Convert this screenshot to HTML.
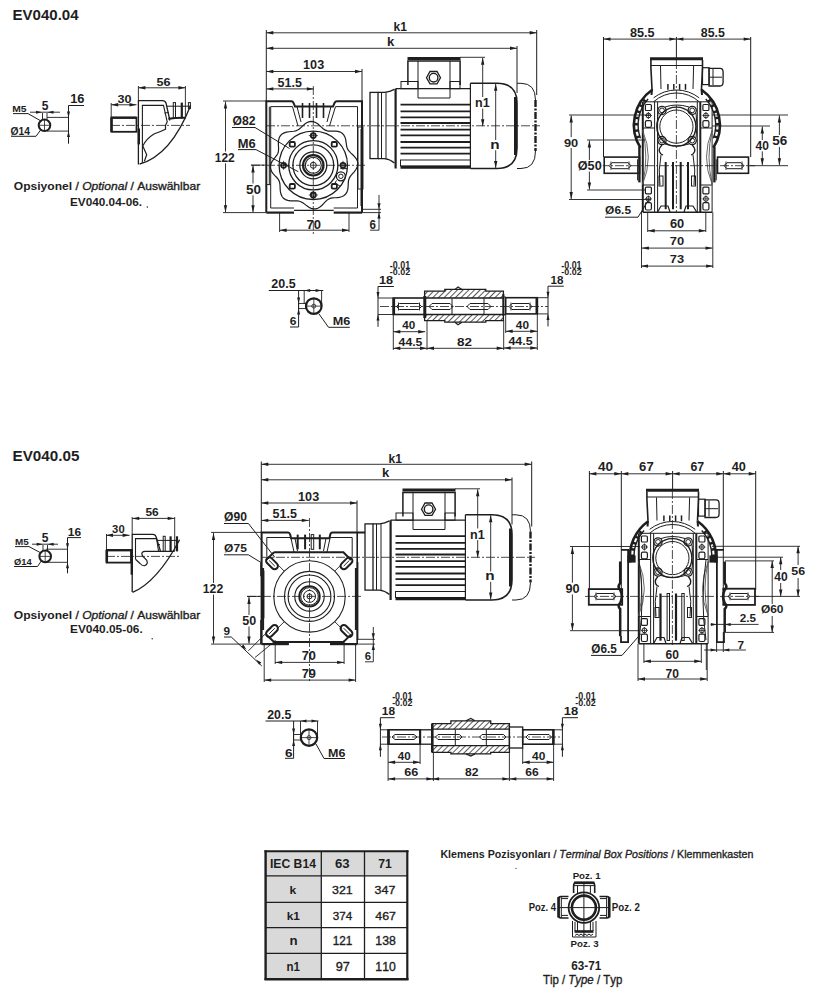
<!DOCTYPE html>
<html><head><meta charset="utf-8"><style>
html,body{margin:0;padding:0;background:#fff;}
svg{display:block;font-family:"Liberation Sans",sans-serif;font-kerning:none;}
</style></head><body>
<svg width="815" height="996" viewBox="0 0 815 996" stroke-linecap="butt">
<rect width="815" height="996" fill="#fff"/>
<text x="12.49" y="19.50" font-size="14.53" textLength="66.09" lengthAdjust="spacingAndGlyphs" style="font-weight:bold;" fill="#1e1e1e">EV040.04</text>
<text x="12.31" y="112.00" font-size="9.88" textLength="14.27" lengthAdjust="spacingAndGlyphs" style="font-weight:bold;" fill="#1e1e1e">M5</text>
<line x1="13.00" y1="113.60" x2="28.00" y2="113.60" stroke="#1e1e1e" stroke-width="1.0"/>
<line x1="28.00" y1="113.60" x2="41.00" y2="121.00" stroke="#1e1e1e" stroke-width="1.0"/>
<text x="41.63" y="110.00" font-size="13.08" textLength="6.71" lengthAdjust="spacingAndGlyphs" style="font-weight:bold;" fill="#1e1e1e">5</text>
<line x1="30.00" y1="112.20" x2="60.00" y2="112.20" stroke="#1e1e1e" stroke-width="0.9"/>
<path d="M42.00,112.20 L36.00,113.70 L36.00,110.70 Z" fill="#1e1e1e" stroke="none"/>
<path d="M47.50,112.20 L53.50,110.70 L53.50,113.70 Z" fill="#1e1e1e" stroke="none"/>
<line x1="42.50" y1="113.00" x2="42.50" y2="119.00" stroke="#1e1e1e" stroke-width="0.9"/>
<line x1="47.00" y1="113.00" x2="47.00" y2="119.00" stroke="#1e1e1e" stroke-width="0.9"/>
<circle cx="44.50" cy="125.30" r="5.80" stroke="#1e1e1e" stroke-width="2.0" fill="none"/>
<line x1="44.50" y1="120.00" x2="44.50" y2="130.50" stroke="#1e1e1e" stroke-width="0.8"/>
<line x1="39.50" y1="125.30" x2="49.50" y2="125.30" stroke="#1e1e1e" stroke-width="0.8"/>
<text x="10.58" y="135.00" font-size="10.17" textLength="19.48" lengthAdjust="spacingAndGlyphs" style="font-weight:bold;" fill="#1e1e1e">Ø14</text>
<line x1="11.00" y1="136.30" x2="36.00" y2="136.30" stroke="#1e1e1e" stroke-width="1.0"/>
<line x1="36.00" y1="136.30" x2="41.00" y2="129.50" stroke="#1e1e1e" stroke-width="1.0"/>
<text x="70.19" y="103.00" font-size="12.50" textLength="14.27" lengthAdjust="spacingAndGlyphs" style="font-weight:bold;" fill="#1e1e1e">16</text>
<line x1="68.50" y1="105.50" x2="84.00" y2="105.50" stroke="#1e1e1e" stroke-width="1.0"/>
<line x1="68.50" y1="105.50" x2="68.50" y2="143.70" stroke="#1e1e1e" stroke-width="1.0"/>
<line x1="47.00" y1="117.40" x2="69.00" y2="117.40" stroke="#1e1e1e" stroke-width="0.9"/>
<line x1="47.00" y1="131.10" x2="69.00" y2="131.10" stroke="#1e1e1e" stroke-width="0.9"/>
<path d="M68.50,117.40 L67.00,111.40 L70.00,111.40 Z" fill="#1e1e1e" stroke="none"/>
<path d="M68.50,131.10 L70.00,137.10 L67.00,137.10 Z" fill="#1e1e1e" stroke="none"/>
<text x="156.51" y="85.60" font-size="11.77" textLength="14.04" lengthAdjust="spacingAndGlyphs" style="font-weight:bold;" fill="#1e1e1e">56</text>
<line x1="138.40" y1="87.80" x2="185.40" y2="87.80" stroke="#1e1e1e" stroke-width="0.9"/>
<path d="M138.40,87.80 L145.40,86.10 L145.40,89.50 Z" fill="#1e1e1e" stroke="none"/>
<path d="M185.40,87.80 L178.40,89.50 L178.40,86.10 Z" fill="#1e1e1e" stroke="none"/>
<line x1="138.40" y1="86.00" x2="138.40" y2="100.00" stroke="#1e1e1e" stroke-width="0.9"/>
<line x1="185.40" y1="86.00" x2="185.40" y2="118.00" stroke="#1e1e1e" stroke-width="0.9"/>
<text x="117.51" y="102.50" font-size="11.63" textLength="14.01" lengthAdjust="spacingAndGlyphs" style="font-weight:bold;" fill="#1e1e1e">30</text>
<line x1="111.20" y1="104.80" x2="136.50" y2="104.80" stroke="#1e1e1e" stroke-width="0.9"/>
<path d="M111.20,104.80 L118.20,103.10 L118.20,106.50 Z" fill="#1e1e1e" stroke="none"/>
<path d="M136.50,104.80 L129.50,106.50 L129.50,103.10 Z" fill="#1e1e1e" stroke="none"/>
<line x1="111.20" y1="103.00" x2="111.20" y2="118.00" stroke="#1e1e1e" stroke-width="0.9"/>
<rect x="111.50" y="117.50" width="25.00" height="14.30" rx="0" stroke="#1e1e1e" stroke-width="1.8" fill="none"/>
<line x1="111.50" y1="117.50" x2="111.50" y2="131.80" stroke="#1e1e1e" stroke-width="2.5"/>
<line x1="111.50" y1="117.80" x2="136.00" y2="117.80" stroke="#1e1e1e" stroke-width="2.2"/>
<line x1="111.00" y1="125.40" x2="190.00" y2="125.40" stroke="#1e1e1e" stroke-width="0.8" stroke-dasharray="9 2 2 2"/>
<path d="M138.4,164.4 L138.4,100.6 L162.5,100.6 Q165.1,100.6 166,103 L169.9,120.5" stroke="#1e1e1e" stroke-width="1.3" fill="none" />
<path d="M142.4,162.8 L142.4,105.4 L163.5,105.4 L167.1,121.3" stroke="#1e1e1e" stroke-width="1.1" fill="none" />
<line x1="164.50" y1="113.00" x2="168.50" y2="112.50" stroke="#1e1e1e" stroke-width="1.0"/>
<line x1="138.80" y1="128.50" x2="138.80" y2="144.40" stroke="#1e1e1e" stroke-width="2.4"/>
<path d="M139.6,164 Q170.9,155.3 190.6,105.4" stroke="#1e1e1e" stroke-width="1.3" fill="none" />
<path d="M167.5,121.3 L165.5,125.3 L165.5,129.3 Q160,132 153.9,134 Q146,139 142.8,146 L146.7,154.8 L144.4,161.2" stroke="#1e1e1e" stroke-width="1.2" fill="none" />
<line x1="167.00" y1="106.20" x2="190.00" y2="106.20" stroke="#1e1e1e" stroke-width="1.0"/>
<path d="M168.3,118.8 Q177,117.5 185.8,117.8" stroke="#1e1e1e" stroke-width="2.0" fill="none" />
<rect x="173.30" y="102.60" width="2.20" height="15.90" rx="0" stroke="#1e1e1e" stroke-width="1.0" fill="none"/>
<line x1="181.80" y1="102.60" x2="181.80" y2="118.50" stroke="#1e1e1e" stroke-width="2.2"/>
<rect x="188.40" y="102.60" width="2.00" height="6.00" rx="0" stroke="#1e1e1e" stroke-width="1.0" fill="none"/>
<text x="13.81" y="190.40" font-size="11.77" textLength="61.67" lengthAdjust="spacingAndGlyphs" style="font-weight:bold;" fill="#1e1e1e" xml:space="preserve">Opsiyonel </text>
<text x="75.48" y="190.40" font-size="11.77" textLength="6.70" lengthAdjust="spacingAndGlyphs" style="stroke:#1e1e1e;stroke-width:0.35px;" fill="#1e1e1e" xml:space="preserve">/ </text>
<text x="82.18" y="190.40" font-size="11.77" textLength="44.93" lengthAdjust="spacingAndGlyphs" style="font-style:italic;stroke:#1e1e1e;stroke-width:0.35px;" fill="#1e1e1e" xml:space="preserve">Optional</text>
<text x="127.11" y="190.40" font-size="11.77" textLength="10.05" lengthAdjust="spacingAndGlyphs" style="stroke:#1e1e1e;stroke-width:0.35px;" fill="#1e1e1e" xml:space="preserve"> / </text>
<text x="137.17" y="190.40" font-size="11.77" textLength="63.03" lengthAdjust="spacingAndGlyphs" style="stroke:#1e1e1e;stroke-width:0.35px;" fill="#1e1e1e" xml:space="preserve">Auswählbar</text>
<text x="70.01" y="206.00" font-size="11.34" textLength="72.00" lengthAdjust="spacingAndGlyphs" style="font-weight:bold;" fill="#1e1e1e">EV040.04-06.</text>
<circle cx="147.30" cy="207.00" r="0.70" stroke="#1e1e1e" stroke-width="0" fill="#1e1e1e"/>
<text x="393.56" y="31.00" font-size="12.35" textLength="13.37" lengthAdjust="spacingAndGlyphs" style="font-weight:bold;" fill="#1e1e1e">k1</text>
<line x1="266.30" y1="32.80" x2="536.70" y2="32.80" stroke="#1e1e1e" stroke-width="0.9"/>
<path d="M266.30,32.80 L273.30,31.10 L273.30,34.50 Z" fill="#1e1e1e" stroke="none"/>
<path d="M536.70,32.80 L529.70,34.50 L529.70,31.10 Z" fill="#1e1e1e" stroke="none"/>
<text x="387.08" y="45.80" font-size="12.14" textLength="7.30" lengthAdjust="spacingAndGlyphs" style="font-weight:bold;" fill="#1e1e1e">k</text>
<line x1="266.30" y1="48.30" x2="517.00" y2="48.30" stroke="#1e1e1e" stroke-width="0.9"/>
<path d="M266.30,48.30 L273.30,46.60 L273.30,50.00 Z" fill="#1e1e1e" stroke="none"/>
<path d="M517.00,48.30 L510.00,50.00 L510.00,46.60 Z" fill="#1e1e1e" stroke="none"/>
<text x="303.11" y="69.00" font-size="13.37" textLength="21.05" lengthAdjust="spacingAndGlyphs" style="font-weight:bold;" fill="#1e1e1e">103</text>
<line x1="266.30" y1="71.50" x2="362.00" y2="71.50" stroke="#1e1e1e" stroke-width="0.9"/>
<path d="M266.30,71.50 L273.30,69.80 L273.30,73.20 Z" fill="#1e1e1e" stroke="none"/>
<path d="M362.00,71.50 L355.00,73.20 L355.00,69.80 Z" fill="#1e1e1e" stroke="none"/>
<text x="277.62" y="86.90" font-size="13.08" textLength="24.33" lengthAdjust="spacingAndGlyphs" style="font-weight:bold;" fill="#1e1e1e">51.5</text>
<line x1="266.30" y1="88.90" x2="313.80" y2="88.90" stroke="#1e1e1e" stroke-width="0.9"/>
<path d="M266.30,88.90 L273.30,87.20 L273.30,90.60 Z" fill="#1e1e1e" stroke="none"/>
<path d="M313.80,88.90 L306.80,90.60 L306.80,87.20 Z" fill="#1e1e1e" stroke="none"/>
<line x1="266.30" y1="30.00" x2="266.30" y2="101.00" stroke="#1e1e1e" stroke-width="1.0"/>
<line x1="362.00" y1="69.00" x2="362.00" y2="101.00" stroke="#1e1e1e" stroke-width="1.0"/>
<line x1="536.70" y1="30.00" x2="536.70" y2="95.00" stroke="#1e1e1e" stroke-width="1.0"/>
<line x1="517.00" y1="46.00" x2="517.00" y2="93.00" stroke="#1e1e1e" stroke-width="1.0"/>
<line x1="225.50" y1="101.50" x2="225.50" y2="212.30" stroke="#1e1e1e" stroke-width="0.9"/>
<path d="M225.50,101.50 L227.20,108.50 L223.80,108.50 Z" fill="#1e1e1e" stroke="none"/>
<path d="M225.50,212.30 L223.80,205.30 L227.20,205.30 Z" fill="#1e1e1e" stroke="none"/>
<rect x="214.00" y="151.50" width="21.80" height="11.80" fill="#fff"/>
<text x="214.74" y="161.80" font-size="12.79" textLength="20.04" lengthAdjust="spacingAndGlyphs" style="font-weight:bold;" fill="#1e1e1e">122</text>
<line x1="223.00" y1="101.00" x2="266.00" y2="101.00" stroke="#1e1e1e" stroke-width="0.9"/>
<line x1="223.00" y1="212.60" x2="266.00" y2="212.60" stroke="#1e1e1e" stroke-width="0.9"/>
<line x1="253.00" y1="165.50" x2="253.00" y2="212.30" stroke="#1e1e1e" stroke-width="0.9"/>
<path d="M253.00,165.50 L254.70,172.50 L251.30,172.50 Z" fill="#1e1e1e" stroke="none"/>
<path d="M253.00,212.30 L251.30,205.30 L254.70,205.30 Z" fill="#1e1e1e" stroke="none"/>
<rect x="244.90" y="183.50" width="17.00" height="11.80" fill="#fff"/>
<text x="245.99" y="193.80" font-size="12.79" textLength="14.97" lengthAdjust="spacingAndGlyphs" style="font-weight:bold;" fill="#1e1e1e">50</text>
<line x1="251.00" y1="165.10" x2="266.00" y2="165.10" stroke="#1e1e1e" stroke-width="0.9"/>
<text x="306.44" y="228.70" font-size="12.21" textLength="14.49" lengthAdjust="spacingAndGlyphs" style="font-weight:bold;" fill="#1e1e1e">70</text>
<line x1="279.60" y1="230.20" x2="349.00" y2="230.20" stroke="#1e1e1e" stroke-width="0.9"/>
<path d="M279.60,230.20 L286.60,228.50 L286.60,231.90 Z" fill="#1e1e1e" stroke="none"/>
<path d="M349.00,230.20 L342.00,231.90 L342.00,228.50 Z" fill="#1e1e1e" stroke="none"/>
<line x1="279.60" y1="212.00" x2="279.60" y2="232.00" stroke="#1e1e1e" stroke-width="0.9"/>
<line x1="349.00" y1="212.00" x2="349.00" y2="232.00" stroke="#1e1e1e" stroke-width="0.9"/>
<text x="369.58" y="228.70" font-size="12.65" textLength="6.44" lengthAdjust="spacingAndGlyphs" style="font-weight:bold;" fill="#1e1e1e">6</text>
<line x1="379.00" y1="195.00" x2="379.00" y2="230.20" stroke="#1e1e1e" stroke-width="0.9"/>
<line x1="370.00" y1="230.20" x2="379.00" y2="230.20" stroke="#1e1e1e" stroke-width="0.9"/>
<path d="M379.00,209.30 L377.40,203.30 L380.60,203.30 Z" fill="#1e1e1e" stroke="none"/>
<path d="M379.00,212.60 L380.60,218.60 L377.40,218.60 Z" fill="#1e1e1e" stroke="none"/>
<line x1="362.00" y1="209.30" x2="381.00" y2="209.30" stroke="#1e1e1e" stroke-width="0.9"/>
<line x1="362.00" y1="212.60" x2="381.00" y2="212.60" stroke="#1e1e1e" stroke-width="0.9"/>
<text x="232.50" y="125.00" font-size="13.08" textLength="22.99" lengthAdjust="spacingAndGlyphs" style="font-weight:bold;" fill="#1e1e1e">Ø82</text>
<line x1="232.00" y1="127.50" x2="255.00" y2="127.50" stroke="#1e1e1e" stroke-width="1.0"/>
<line x1="255.00" y1="127.50" x2="289.50" y2="148.50" stroke="#1e1e1e" stroke-width="1.0"/>
<text x="237.84" y="147.90" font-size="11.92" textLength="17.93" lengthAdjust="spacingAndGlyphs" style="font-weight:bold;" fill="#1e1e1e">M6</text>
<line x1="238.00" y1="149.60" x2="256.00" y2="149.60" stroke="#1e1e1e" stroke-width="1.0"/>
<line x1="256.00" y1="149.60" x2="298.30" y2="171.70" stroke="#1e1e1e" stroke-width="1.0"/>
<path d="M266.3,212.6 L266.3,101.3 L291.5,101.3 Q293,101.3 294,104 L295,106.6 L333,106.6 L334.5,103 Q335.3,101.3 337,101.3 L362,101.3 L362,212.6" stroke="#1e1e1e" stroke-width="2.0" fill="none" />
<line x1="266.30" y1="212.60" x2="294.00" y2="212.60" stroke="#1e1e1e" stroke-width="2.2"/>
<line x1="333.70" y1="212.60" x2="362.00" y2="212.60" stroke="#1e1e1e" stroke-width="2.2"/>
<line x1="294.00" y1="210.40" x2="333.70" y2="210.40" stroke="#1e1e1e" stroke-width="1.2"/>
<path d="M270.7,208 L270.7,106.6 L292.5,106.6" stroke="#1e1e1e" stroke-width="1.0" fill="none" />
<path d="M335.5,106.6 L357.5,106.6 L357.5,208" stroke="#1e1e1e" stroke-width="1.0" fill="none" />
<line x1="270.70" y1="208.00" x2="294.00" y2="208.00" stroke="#1e1e1e" stroke-width="1.0"/>
<line x1="333.70" y1="208.00" x2="357.50" y2="208.00" stroke="#1e1e1e" stroke-width="1.0"/>
<line x1="292.50" y1="106.60" x2="298.00" y2="126.00" stroke="#1e1e1e" stroke-width="1.0"/>
<line x1="297.00" y1="106.60" x2="301.00" y2="122.00" stroke="#1e1e1e" stroke-width="1.0"/>
<line x1="335.50" y1="106.60" x2="329.50" y2="126.00" stroke="#1e1e1e" stroke-width="1.0"/>
<line x1="331.00" y1="106.60" x2="327.00" y2="122.00" stroke="#1e1e1e" stroke-width="1.0"/>
<line x1="302.50" y1="103.00" x2="302.50" y2="118.00" stroke="#1e1e1e" stroke-width="1.6"/>
<line x1="309.50" y1="103.00" x2="309.50" y2="118.00" stroke="#1e1e1e" stroke-width="1.6"/>
<line x1="316.50" y1="103.00" x2="316.50" y2="118.00" stroke="#1e1e1e" stroke-width="1.6"/>
<line x1="323.50" y1="103.00" x2="323.50" y2="118.00" stroke="#1e1e1e" stroke-width="1.6"/>
<rect x="358.00" y="127.00" width="5.00" height="62.00" rx="0" stroke="#1e1e1e" stroke-width="0.9" fill="none"/>
<line x1="269.30" y1="106.60" x2="269.30" y2="184.60" stroke="#1e1e1e" stroke-width="1.0"/>
<line x1="266.30" y1="184.60" x2="270.70" y2="184.60" stroke="#1e1e1e" stroke-width="1.0"/>
<line x1="361.00" y1="129.00" x2="361.00" y2="206.00" stroke="#1e1e1e" stroke-width="1.0"/>
<path d="M357.72,165.30 L356.99,167.59 L355.75,169.76 L354.20,171.78 L352.56,173.64 L351.04,175.41 L349.81,177.16 L348.96,178.99 L348.47,180.96 L348.27,183.12 L348.18,185.44 L348.02,187.85 L347.60,190.22 L346.78,192.41 L345.49,194.29 L343.74,195.74 L341.61,196.74 L339.23,197.33 L336.77,197.61 L334.37,197.75 L332.15,197.95 L330.15,198.38 L328.38,199.16 L326.75,200.35 L325.19,201.89 L323.58,203.66 L321.84,205.46 L319.91,207.06 L317.82,208.26 L315.59,208.91 L313.30,208.92 L311.05,208.32 L308.89,207.24 L306.88,205.85 L304.99,204.38 L303.19,203.04 L301.38,201.98 L299.49,201.28 L297.43,200.94 L295.18,200.86 L292.76,200.88 L290.25,200.79 L287.79,200.42 L285.51,199.62 L283.56,198.33 L282.06,196.54 L281.03,194.36 L280.44,191.91 L280.18,189.37 L280.08,186.87 L279.96,184.55 L279.63,182.46 L278.97,180.59 L277.92,178.88 L276.54,177.24 L274.94,175.58 L273.31,173.80 L271.88,171.86 L270.85,169.76 L270.36,167.55 L270.48,165.30 L271.19,163.09 L272.36,161.00 L273.81,159.05 L275.31,157.23 L276.66,155.48 L277.69,153.73 L278.32,151.87 L278.58,149.84 L278.55,147.60 L278.42,145.16 L278.37,142.62 L278.60,140.09 L279.25,137.73 L280.41,135.68 L282.06,134.06 L284.12,132.89 L286.47,132.17 L288.93,131.76 L291.36,131.52 L293.65,131.26 L295.73,130.81 L297.60,130.05 L299.33,128.92 L301.01,127.48 L302.73,125.85 L304.57,124.22 L306.57,122.82 L308.73,121.84 L311.00,121.44 L313.30,121.68 L315.54,122.53 L317.66,123.85 L319.61,125.46 L321.41,127.14 L323.12,128.66 L324.82,129.86 L326.60,130.65 L328.55,131.05 L330.70,131.15 L333.04,131.11 L335.49,131.14 L337.92,131.41 L340.19,132.09 L342.17,133.24 L343.74,134.86 L344.87,136.87 L345.60,139.15 L346.02,141.53 L346.31,143.86 L346.64,146.05 L347.20,148.03 L348.08,149.81 L349.35,151.46 L350.95,153.07 L352.75,154.73 L354.55,156.53 L356.13,158.52 L357.27,160.68 L357.82,162.97 L357.72,165.30 Z" fill="none" stroke="#1e1e1e" stroke-width="1.2"/>
<circle cx="313.30" cy="165.30" r="34.20" stroke="#1e1e1e" stroke-width="1.3" fill="none"/>
<circle cx="313.30" cy="165.30" r="24.60" stroke="#1e1e1e" stroke-width="1.3" fill="none"/>
<circle cx="313.30" cy="165.30" r="20.40" stroke="#1e1e1e" stroke-width="1.3" fill="none"/>
<circle cx="313.30" cy="165.30" r="13.50" stroke="#1e1e1e" stroke-width="1.3" fill="none"/>
<circle cx="313.30" cy="165.30" r="10.20" stroke="#1e1e1e" stroke-width="2.2" fill="none"/>
<circle cx="313.30" cy="165.30" r="8.00" stroke="#1e1e1e" stroke-width="1.1" fill="none"/>
<circle cx="313.30" cy="165.30" r="3.00" stroke="#1e1e1e" stroke-width="1.0" fill="none"/>
<circle cx="343.00" cy="165.30" r="2.50" stroke="#1e1e1e" stroke-width="1.8" fill="none"/>
<line x1="338.50" y1="165.30" x2="347.50" y2="165.30" stroke="#1e1e1e" stroke-width="0.8"/>
<line x1="343.00" y1="160.80" x2="343.00" y2="169.80" stroke="#1e1e1e" stroke-width="0.8"/>
<circle cx="313.30" cy="195.00" r="2.50" stroke="#1e1e1e" stroke-width="1.8" fill="none"/>
<line x1="308.80" y1="195.00" x2="317.80" y2="195.00" stroke="#1e1e1e" stroke-width="0.8"/>
<line x1="313.30" y1="190.50" x2="313.30" y2="199.50" stroke="#1e1e1e" stroke-width="0.8"/>
<circle cx="283.60" cy="165.30" r="2.50" stroke="#1e1e1e" stroke-width="1.8" fill="none"/>
<line x1="279.10" y1="165.30" x2="288.10" y2="165.30" stroke="#1e1e1e" stroke-width="0.8"/>
<line x1="283.60" y1="160.80" x2="283.60" y2="169.80" stroke="#1e1e1e" stroke-width="0.8"/>
<circle cx="313.30" cy="135.60" r="2.50" stroke="#1e1e1e" stroke-width="1.8" fill="none"/>
<line x1="308.80" y1="135.60" x2="317.80" y2="135.60" stroke="#1e1e1e" stroke-width="0.8"/>
<line x1="313.30" y1="131.10" x2="313.30" y2="140.10" stroke="#1e1e1e" stroke-width="0.8"/>
<rect x="331.70" y="184.00" width="5.20" height="4.60" rx="1.2" stroke="#1e1e1e" stroke-width="1.8" fill="none"/>
<rect x="289.70" y="184.00" width="5.20" height="4.60" rx="1.2" stroke="#1e1e1e" stroke-width="1.8" fill="none"/>
<rect x="289.70" y="142.00" width="5.20" height="4.60" rx="1.2" stroke="#1e1e1e" stroke-width="1.8" fill="none"/>
<rect x="331.70" y="142.00" width="5.20" height="4.60" rx="1.2" stroke="#1e1e1e" stroke-width="1.8" fill="none"/>
<circle cx="340.90" cy="176.30" r="4.50" stroke="#1e1e1e" stroke-width="1.3" fill="none"/>
<circle cx="340.90" cy="176.30" r="2.20" stroke="#1e1e1e" stroke-width="1.0" fill="none"/>
<path d="M336.5,180.5 L335,183 L340.3,186.3 M340.3,168.6 L347.5,168.6" stroke="#1e1e1e" stroke-width="1.0" fill="none" />
<line x1="313.30" y1="86.00" x2="313.30" y2="234.00" stroke="#1e1e1e" stroke-width="0.8" stroke-dasharray="9 2 2 2"/>
<line x1="251.00" y1="165.30" x2="366.00" y2="165.30" stroke="#1e1e1e" stroke-width="0.8" stroke-dasharray="9 2 2 2"/>
<line x1="266.00" y1="125.80" x2="540.00" y2="125.80" stroke="#1e1e1e" stroke-width="0.8" stroke-dasharray="9 2 2 2"/>
<rect x="370.00" y="92.40" width="8.00" height="66.20" rx="0" stroke="#1e1e1e" stroke-width="1.3" fill="none"/>
<path d="M378,92.4 L384.5,92.4 Q390,91.8 394.4,89.4 M394.4,163 Q390,159.2 384.5,158.6 L378,158.6" stroke="#1e1e1e" stroke-width="1.3" fill="none" />
<line x1="381.50" y1="92.40" x2="381.50" y2="158.60" stroke="#1e1e1e" stroke-width="1.0"/>
<line x1="386.00" y1="92.40" x2="386.00" y2="158.60" stroke="#1e1e1e" stroke-width="1.0"/>
<line x1="395.60" y1="88.70" x2="395.60" y2="168.50" stroke="#1e1e1e" stroke-width="2.2"/>
<line x1="395.60" y1="88.70" x2="470.40" y2="88.70" stroke="#1e1e1e" stroke-width="1.2"/>
<line x1="400.50" y1="104.70" x2="470.40" y2="104.70" stroke="#1e1e1e" stroke-width="1.8"/>
<line x1="400.50" y1="111.30" x2="470.40" y2="111.30" stroke="#1e1e1e" stroke-width="1.8"/>
<line x1="400.50" y1="117.40" x2="470.40" y2="117.40" stroke="#1e1e1e" stroke-width="1.8"/>
<line x1="400.50" y1="123.00" x2="470.40" y2="123.00" stroke="#1e1e1e" stroke-width="1.8"/>
<line x1="400.50" y1="129.70" x2="470.40" y2="129.70" stroke="#1e1e1e" stroke-width="1.8"/>
<line x1="400.50" y1="135.30" x2="470.40" y2="135.30" stroke="#1e1e1e" stroke-width="1.8"/>
<line x1="400.50" y1="142.00" x2="470.40" y2="142.00" stroke="#1e1e1e" stroke-width="1.8"/>
<line x1="400.50" y1="147.60" x2="470.40" y2="147.60" stroke="#1e1e1e" stroke-width="1.8"/>
<line x1="400.50" y1="153.70" x2="470.40" y2="153.70" stroke="#1e1e1e" stroke-width="1.8"/>
<rect x="400.50" y="160.00" width="70.00" height="6.00" rx="0" stroke="#1e1e1e" stroke-width="1.0" fill="none"/>
<line x1="400.50" y1="167.20" x2="470.40" y2="167.20" stroke="#1e1e1e" stroke-width="3.0"/>
<rect x="401.00" y="81.50" width="17.00" height="7.20" rx="0" stroke="#1e1e1e" stroke-width="1.0" fill="none"/>
<rect x="450.00" y="81.50" width="10.00" height="7.20" rx="0" stroke="#1e1e1e" stroke-width="1.0" fill="none"/>
<path d="M418,84 L418,98 L450,98 L450,84" stroke="#1e1e1e" stroke-width="1.0" fill="none" />
<path d="M407.9,85 L407.9,61 L460.1,61 L460.1,85" stroke="#1e1e1e" stroke-width="1.5" fill="none" />
<line x1="407.50" y1="58.50" x2="460.50" y2="58.50" stroke="#1e1e1e" stroke-width="3.2"/>
<line x1="418.00" y1="61.00" x2="418.00" y2="84.00" stroke="#1e1e1e" stroke-width="1.0"/>
<line x1="450.00" y1="61.00" x2="450.00" y2="84.00" stroke="#1e1e1e" stroke-width="1.0"/>
<path d="M426.5,77.7 L430,71.5 L437,71.5 L440.5,77.7 L437,83.9 L430,83.9 Z" stroke="#1e1e1e" stroke-width="1.3" fill="none" />
<circle cx="433.60" cy="77.70" r="4.30" stroke="#1e1e1e" stroke-width="1.4" fill="none"/>
<line x1="460.00" y1="57.30" x2="485.00" y2="57.30" stroke="#1e1e1e" stroke-width="0.9"/>
<path d="M470.4,83.3 L497,83.3 Q517,83.3 517,103 L517,148 Q517,168.5 497,168.5 L470.4,168.5" stroke="#1e1e1e" stroke-width="1.6" fill="none" />
<line x1="470.40" y1="83.30" x2="470.40" y2="168.50" stroke="#1e1e1e" stroke-width="1.2"/>
<line x1="515.50" y1="97.00" x2="515.50" y2="155.00" stroke="#1e1e1e" stroke-width="3.0"/>
<path d="M517,83.3 L521,83.3 Q535.5,83.3 535.5,100 M535.5,151 Q535.5,168.5 521,168.5 L517,168.5" stroke="#1e1e1e" stroke-width="1.0" fill="none" />
<line x1="535.50" y1="100.00" x2="535.50" y2="151.00" stroke="#1e1e1e" stroke-width="2.4" stroke-dasharray="7 1.5 2 1.5"/>
<line x1="482.70" y1="57.80" x2="482.70" y2="126.20" stroke="#1e1e1e" stroke-width="0.9"/>
<path d="M482.70,57.80 L484.40,64.80 L481.00,64.80 Z" fill="#1e1e1e" stroke="none"/>
<path d="M482.70,126.20 L481.00,119.20 L484.40,119.20 Z" fill="#1e1e1e" stroke="none"/>
<rect x="474.30" y="97.00" width="16.50" height="11.60" fill="#fff"/>
<text x="474.97" y="107.10" font-size="12.50" textLength="14.68" lengthAdjust="spacingAndGlyphs" style="font-weight:bold;" fill="#1e1e1e">n1</text>
<line x1="495.70" y1="83.80" x2="495.70" y2="168.00" stroke="#1e1e1e" stroke-width="0.9"/>
<path d="M495.70,83.80 L497.40,90.80 L494.00,90.80 Z" fill="#1e1e1e" stroke="none"/>
<path d="M495.70,168.00 L494.00,161.00 L497.40,161.00 Z" fill="#1e1e1e" stroke="none"/>
<rect x="489.80" y="140.00" width="10.40" height="10.30" fill="#fff"/>
<text x="490.29" y="148.80" font-size="13.54" textLength="9.36" lengthAdjust="spacingAndGlyphs" style="font-weight:bold;" fill="#1e1e1e">n</text>
<text x="630.10" y="37.20" font-size="12.50" textLength="24.55" lengthAdjust="spacingAndGlyphs" style="font-weight:bold;" fill="#1e1e1e">85.5</text>
<text x="700.81" y="37.20" font-size="12.50" textLength="24.04" lengthAdjust="spacingAndGlyphs" style="font-weight:bold;" fill="#1e1e1e">85.5</text>
<line x1="603.50" y1="39.10" x2="676.40" y2="39.10" stroke="#1e1e1e" stroke-width="0.9"/>
<path d="M603.50,39.10 L610.50,37.40 L610.50,40.80 Z" fill="#1e1e1e" stroke="none"/>
<path d="M676.40,39.10 L669.40,40.80 L669.40,37.40 Z" fill="#1e1e1e" stroke="none"/>
<line x1="676.40" y1="39.10" x2="750.70" y2="39.10" stroke="#1e1e1e" stroke-width="0.9"/>
<path d="M676.40,39.10 L683.40,37.40 L683.40,40.80 Z" fill="#1e1e1e" stroke="none"/>
<path d="M750.70,39.10 L743.70,40.80 L743.70,37.40 Z" fill="#1e1e1e" stroke="none"/>
<line x1="603.50" y1="37.00" x2="603.50" y2="157.00" stroke="#1e1e1e" stroke-width="1.0"/>
<line x1="750.70" y1="37.00" x2="750.70" y2="157.00" stroke="#1e1e1e" stroke-width="1.0"/>
<line x1="676.40" y1="37.00" x2="676.40" y2="60.00" stroke="#1e1e1e" stroke-width="1.0"/>
<line x1="650.00" y1="58.80" x2="703.00" y2="58.80" stroke="#1e1e1e" stroke-width="3.0"/>
<path d="M650.9,60 L650.9,67.7 L652,89 M702.5,60 L702.5,67.7 L701.5,89" stroke="#1e1e1e" stroke-width="1.6" fill="none" />
<line x1="651.00" y1="65.50" x2="702.00" y2="65.50" stroke="#1e1e1e" stroke-width="1.0"/>
<line x1="660.50" y1="66.00" x2="661.00" y2="89.00" stroke="#1e1e1e" stroke-width="1.0"/>
<line x1="693.60" y1="66.00" x2="693.00" y2="89.00" stroke="#1e1e1e" stroke-width="1.0"/>
<line x1="667.90" y1="83.90" x2="667.90" y2="89.80" stroke="#1e1e1e" stroke-width="1.5"/>
<line x1="673.80" y1="83.90" x2="673.80" y2="89.80" stroke="#1e1e1e" stroke-width="1.5"/>
<line x1="679.60" y1="83.90" x2="679.60" y2="89.80" stroke="#1e1e1e" stroke-width="1.5"/>
<line x1="685.50" y1="83.90" x2="685.50" y2="89.80" stroke="#1e1e1e" stroke-width="1.5"/>
<rect x="702.50" y="67.70" width="6.60" height="16.90" rx="0" stroke="#1e1e1e" stroke-width="1.2" fill="none"/>
<path d="M709,68.4 L720,68.4 Q723.1,68.4 723.1,72 L723.1,82 Q723.1,86 720,86 L709,86 Z" stroke="#1e1e1e" stroke-width="1.3" fill="none" />
<line x1="709.00" y1="77.20" x2="722.00" y2="77.20" stroke="#1e1e1e" stroke-width="1.0"/>
<line x1="713.00" y1="69.00" x2="713.00" y2="85.00" stroke="#1e1e1e" stroke-width="1.0"/>
<path d="M640.43,147.79 A43,43 0 0 1 652.24,89.78" stroke="#1e1e1e" stroke-width="2.6" fill="none" />
<path d="M701.56,89.78 A43,43 0 0 1 713.37,147.79" stroke="#1e1e1e" stroke-width="2.6" fill="none" />
<path d="M640.44,138.27 A38.8,38.8 0 0 1 648.07,99.04" stroke="#1e1e1e" stroke-width="1.4" fill="none" />
<path d="M705.73,99.04 A38.8,38.8 0 0 1 713.36,138.27" stroke="#1e1e1e" stroke-width="1.4" fill="none" />
<line x1="639.80" y1="136.34" x2="635.78" y2="137.57" stroke="#1e1e1e" stroke-width="2.4"/>
<line x1="714.00" y1="136.34" x2="718.02" y2="137.57" stroke="#1e1e1e" stroke-width="2.4"/>
<line x1="638.48" y1="130.40" x2="634.32" y2="130.98" stroke="#1e1e1e" stroke-width="2.4"/>
<line x1="715.32" y1="130.40" x2="719.48" y2="130.98" stroke="#1e1e1e" stroke-width="2.4"/>
<line x1="638.11" y1="124.32" x2="633.91" y2="124.25" stroke="#1e1e1e" stroke-width="2.4"/>
<line x1="715.69" y1="124.32" x2="719.89" y2="124.25" stroke="#1e1e1e" stroke-width="2.4"/>
<line x1="638.69" y1="118.26" x2="634.55" y2="117.53" stroke="#1e1e1e" stroke-width="2.4"/>
<line x1="715.11" y1="118.26" x2="719.25" y2="117.53" stroke="#1e1e1e" stroke-width="2.4"/>
<line x1="640.21" y1="112.37" x2="636.24" y2="111.00" stroke="#1e1e1e" stroke-width="2.4"/>
<line x1="713.59" y1="112.37" x2="717.56" y2="111.00" stroke="#1e1e1e" stroke-width="2.4"/>
<line x1="642.64" y1="106.78" x2="638.93" y2="104.81" stroke="#1e1e1e" stroke-width="2.4"/>
<line x1="711.16" y1="106.78" x2="714.87" y2="104.81" stroke="#1e1e1e" stroke-width="2.4"/>
<line x1="645.91" y1="101.65" x2="642.56" y2="99.12" stroke="#1e1e1e" stroke-width="2.4"/>
<line x1="707.89" y1="101.65" x2="711.24" y2="99.12" stroke="#1e1e1e" stroke-width="2.4"/>
<path d="M653.62,97.84 A37,37 0 0 1 699.18,97.84" stroke="#1e1e1e" stroke-width="1.0" fill="none" />
<path d="M653.65,101.73 A34,34 0 0 1 699.15,101.73" stroke="#1e1e1e" stroke-width="1.0" fill="none" />
<line x1="652.00" y1="89.00" x2="651.50" y2="95.00" stroke="#1e1e1e" stroke-width="2.0"/>
<line x1="701.50" y1="89.00" x2="702.00" y2="95.00" stroke="#1e1e1e" stroke-width="2.0"/>
<line x1="642.80" y1="101.80" x2="712.00" y2="101.80" stroke="#1e1e1e" stroke-width="1.0"/>
<circle cx="676.40" cy="126.60" r="19.50" stroke="#1e1e1e" stroke-width="1.4" fill="none"/>
<circle cx="676.40" cy="126.60" r="16.60" stroke="#1e1e1e" stroke-width="1.0" fill="none"/>
<circle cx="662.00" cy="110.40" r="4.10" stroke="#1e1e1e" stroke-width="1.3" fill="none"/>
<circle cx="662.00" cy="110.40" r="2.40" stroke="#1e1e1e" stroke-width="1.0" fill="none"/>
<circle cx="692.20" cy="110.40" r="4.10" stroke="#1e1e1e" stroke-width="1.3" fill="none"/>
<circle cx="692.20" cy="110.40" r="2.40" stroke="#1e1e1e" stroke-width="1.0" fill="none"/>
<circle cx="662.00" cy="140.60" r="4.10" stroke="#1e1e1e" stroke-width="1.3" fill="none"/>
<circle cx="662.00" cy="140.60" r="2.40" stroke="#1e1e1e" stroke-width="1.0" fill="none"/>
<circle cx="692.20" cy="140.60" r="4.10" stroke="#1e1e1e" stroke-width="1.3" fill="none"/>
<circle cx="692.20" cy="140.60" r="2.40" stroke="#1e1e1e" stroke-width="1.0" fill="none"/>
<path d="M665,107 Q676.4,103 689,107 M665,144 Q676.4,148 689,144 M658,113 Q656,126.6 658,138 M696,113 Q698,126.6 696,138" stroke="#1e1e1e" stroke-width="1.0" fill="none" />
<path d="M662,145 Q657,150 661,154 L663,155 M692.2,145 Q697,150 693,154 L691,155" stroke="#1e1e1e" stroke-width="1.3" fill="none" />
<path d="M661,155 Q658,170 660,185 M693,155 Q696,170 694,185" stroke="#1e1e1e" stroke-width="1.0" fill="none" />
<rect x="659.00" y="176.00" width="4.00" height="10.00" rx="0" stroke="#1e1e1e" stroke-width="1.0" fill="none"/>
<rect x="691.50" y="176.00" width="4.00" height="10.00" rx="0" stroke="#1e1e1e" stroke-width="1.0" fill="none"/>
<line x1="642.80" y1="101.80" x2="642.80" y2="212.20" stroke="#1e1e1e" stroke-width="2.0"/>
<line x1="654.60" y1="101.80" x2="654.60" y2="212.20" stroke="#1e1e1e" stroke-width="1.0"/>
<line x1="657.60" y1="101.80" x2="657.60" y2="212.20" stroke="#1e1e1e" stroke-width="1.0"/>
<rect x="645.40" y="104.50" width="6.00" height="6.00" rx="1" stroke="#1e1e1e" stroke-width="1.2" fill="none"/>
<circle cx="648.40" cy="115.50" r="2.40" stroke="#1e1e1e" stroke-width="1.0" fill="none"/>
<line x1="644.90" y1="115.50" x2="651.90" y2="115.50" stroke="#1e1e1e" stroke-width="0.8"/>
<line x1="648.40" y1="112.00" x2="648.40" y2="119.00" stroke="#1e1e1e" stroke-width="0.8"/>
<rect x="645.40" y="120.70" width="6.00" height="6.60" rx="1.5" stroke="#1e1e1e" stroke-width="1.2" fill="none"/>
<line x1="642.80" y1="128.00" x2="654.60" y2="128.00" stroke="#1e1e1e" stroke-width="1.0"/>
<line x1="642.80" y1="185.00" x2="654.60" y2="185.00" stroke="#1e1e1e" stroke-width="1.0"/>
<rect x="645.40" y="187.10" width="6.00" height="6.70" rx="1" stroke="#1e1e1e" stroke-width="1.2" fill="none"/>
<circle cx="648.40" cy="198.90" r="2.40" stroke="#1e1e1e" stroke-width="1.0" fill="none"/>
<line x1="644.90" y1="198.90" x2="651.90" y2="198.90" stroke="#1e1e1e" stroke-width="0.8"/>
<line x1="648.40" y1="195.50" x2="648.40" y2="202.50" stroke="#1e1e1e" stroke-width="0.8"/>
<rect x="645.40" y="202.60" width="6.00" height="7.40" rx="1.5" stroke="#1e1e1e" stroke-width="1.2" fill="none"/>
<line x1="700.30" y1="101.80" x2="700.30" y2="212.20" stroke="#1e1e1e" stroke-width="2.0"/>
<line x1="712.10" y1="101.80" x2="712.10" y2="212.20" stroke="#1e1e1e" stroke-width="1.0"/>
<line x1="697.30" y1="101.80" x2="697.30" y2="212.20" stroke="#1e1e1e" stroke-width="1.0"/>
<rect x="702.90" y="104.50" width="6.00" height="6.00" rx="1" stroke="#1e1e1e" stroke-width="1.2" fill="none"/>
<circle cx="705.90" cy="115.50" r="2.40" stroke="#1e1e1e" stroke-width="1.0" fill="none"/>
<line x1="702.40" y1="115.50" x2="709.40" y2="115.50" stroke="#1e1e1e" stroke-width="0.8"/>
<line x1="705.90" y1="112.00" x2="705.90" y2="119.00" stroke="#1e1e1e" stroke-width="0.8"/>
<rect x="702.90" y="120.70" width="6.00" height="6.60" rx="1.5" stroke="#1e1e1e" stroke-width="1.2" fill="none"/>
<line x1="700.30" y1="128.00" x2="712.10" y2="128.00" stroke="#1e1e1e" stroke-width="1.0"/>
<line x1="700.30" y1="185.00" x2="712.10" y2="185.00" stroke="#1e1e1e" stroke-width="1.0"/>
<rect x="702.90" y="187.10" width="6.00" height="6.70" rx="1" stroke="#1e1e1e" stroke-width="1.2" fill="none"/>
<circle cx="705.90" cy="198.90" r="2.40" stroke="#1e1e1e" stroke-width="1.0" fill="none"/>
<line x1="702.40" y1="198.90" x2="709.40" y2="198.90" stroke="#1e1e1e" stroke-width="0.8"/>
<line x1="705.90" y1="195.50" x2="705.90" y2="202.50" stroke="#1e1e1e" stroke-width="0.8"/>
<rect x="702.90" y="202.60" width="6.00" height="7.40" rx="1.5" stroke="#1e1e1e" stroke-width="1.2" fill="none"/>
<line x1="642.80" y1="212.20" x2="712.00" y2="212.20" stroke="#1e1e1e" stroke-width="1.6"/>
<line x1="665.70" y1="162.00" x2="665.70" y2="209.20" stroke="#1e1e1e" stroke-width="2.0"/>
<line x1="673.00" y1="162.00" x2="673.00" y2="209.20" stroke="#1e1e1e" stroke-width="2.0"/>
<line x1="680.70" y1="162.00" x2="680.70" y2="209.20" stroke="#1e1e1e" stroke-width="2.0"/>
<line x1="688.00" y1="162.00" x2="688.00" y2="209.20" stroke="#1e1e1e" stroke-width="2.0"/>
<path d="M657.6,212 L661,206 L668,206 L670,212 M684,212 L686,206 L693,206 L696.6,212" stroke="#1e1e1e" stroke-width="1.2" fill="none" />
<path d="M642.6,130.2 Q654,157 642.6,184.4 Q649,157 642.6,130.2 M712.2,130.2 Q700.8,157 712.2,184.4 Q705.8,157 712.2,130.2" stroke="#555" stroke-width="0.9" fill="none" />
<line x1="639.40" y1="147.00" x2="639.40" y2="182.40" stroke="#1e1e1e" stroke-width="2.4"/>
<line x1="714.40" y1="147.00" x2="714.40" y2="182.40" stroke="#1e1e1e" stroke-width="2.4"/>
<line x1="637.60" y1="159.30" x2="637.60" y2="180.40" stroke="#1e1e1e" stroke-width="1.0"/>
<line x1="716.20" y1="159.30" x2="716.20" y2="180.40" stroke="#1e1e1e" stroke-width="1.0"/>
<rect x="604.20" y="157.10" width="35.30" height="16.20" rx="0" stroke="#1e1e1e" stroke-width="1.6" fill="none"/>
<rect x="717.50" y="157.10" width="31.00" height="16.20" rx="0" stroke="#1e1e1e" stroke-width="1.6" fill="none"/>
<path d="M609,165.7 L612,162.7 L628,162.7 L631,165.7 L628,168.7 L612,168.7 Z" stroke="#1e1e1e" stroke-width="1.0" fill="none" />
<path d="M724,165.7 L727,162.7 L741,162.7 L744,165.7 L741,168.7 L727,168.7 Z" stroke="#1e1e1e" stroke-width="1.0" fill="none" />
<line x1="611.00" y1="161.50" x2="611.00" y2="170.00" stroke="#1e1e1e" stroke-width="0.9"/>
<line x1="629.00" y1="161.50" x2="629.00" y2="170.00" stroke="#1e1e1e" stroke-width="0.9"/>
<line x1="726.00" y1="161.50" x2="726.00" y2="170.00" stroke="#1e1e1e" stroke-width="0.9"/>
<line x1="742.00" y1="161.50" x2="742.00" y2="170.00" stroke="#1e1e1e" stroke-width="0.9"/>
<line x1="600.00" y1="165.70" x2="755.00" y2="165.70" stroke="#1e1e1e" stroke-width="0.8" stroke-dasharray="9 2 2 2"/>
<line x1="676.40" y1="60.00" x2="676.40" y2="213.00" stroke="#1e1e1e" stroke-width="0.8" stroke-dasharray="9 2 2 2"/>
<line x1="571.20" y1="115.50" x2="571.20" y2="199.00" stroke="#1e1e1e" stroke-width="0.9"/>
<path d="M571.20,115.50 L572.90,122.50 L569.50,122.50 Z" fill="#1e1e1e" stroke="none"/>
<path d="M571.20,199.00 L569.50,192.00 L572.90,192.00 Z" fill="#1e1e1e" stroke="none"/>
<rect x="562.90" y="137.10" width="16.30" height="10.90" fill="#fff"/>
<text x="563.96" y="146.50" font-size="11.48" textLength="14.27" lengthAdjust="spacingAndGlyphs" style="font-weight:bold;" fill="#1e1e1e">90</text>
<line x1="569.00" y1="115.00" x2="650.00" y2="115.00" stroke="#1e1e1e" stroke-width="0.9"/>
<line x1="569.00" y1="199.50" x2="650.00" y2="199.50" stroke="#1e1e1e" stroke-width="0.9"/>
<line x1="589.40" y1="140.50" x2="589.40" y2="189.50" stroke="#1e1e1e" stroke-width="0.9"/>
<path d="M589.40,140.50 L591.10,147.50 L587.70,147.50 Z" fill="#1e1e1e" stroke="none"/>
<path d="M589.40,189.50 L587.70,182.50 L591.10,182.50 Z" fill="#1e1e1e" stroke="none"/>
<rect x="576.80" y="160.10" width="25.90" height="11.50" fill="#fff"/>
<text x="577.78" y="170.10" font-size="12.35" textLength="23.94" lengthAdjust="spacingAndGlyphs" style="font-weight:bold;" fill="#1e1e1e">Ø50</text>
<line x1="587.00" y1="140.00" x2="645.00" y2="140.00" stroke="#1e1e1e" stroke-width="0.9"/>
<line x1="587.00" y1="190.00" x2="645.00" y2="190.00" stroke="#1e1e1e" stroke-width="0.9"/>
<line x1="762.30" y1="126.50" x2="762.30" y2="165.20" stroke="#1e1e1e" stroke-width="0.9"/>
<path d="M762.30,126.50 L764.00,133.50 L760.60,133.50 Z" fill="#1e1e1e" stroke="none"/>
<path d="M762.30,165.20 L760.60,158.20 L764.00,158.20 Z" fill="#1e1e1e" stroke="none"/>
<rect x="754.30" y="140.00" width="15.70" height="11.30" fill="#fff"/>
<text x="755.62" y="149.80" font-size="12.06" textLength="13.38" lengthAdjust="spacingAndGlyphs" style="font-weight:bold;" fill="#1e1e1e">40</text>
<line x1="712.00" y1="126.00" x2="770.00" y2="126.00" stroke="#1e1e1e" stroke-width="0.9"/>
<line x1="779.40" y1="115.50" x2="779.40" y2="165.20" stroke="#1e1e1e" stroke-width="0.9"/>
<path d="M779.40,115.50 L781.10,122.50 L777.70,122.50 Z" fill="#1e1e1e" stroke="none"/>
<path d="M779.40,165.20 L777.70,158.20 L781.10,158.20 Z" fill="#1e1e1e" stroke="none"/>
<rect x="771.10" y="135.00" width="17.10" height="11.90" fill="#fff"/>
<text x="772.19" y="145.40" font-size="12.94" textLength="15.00" lengthAdjust="spacingAndGlyphs" style="font-weight:bold;" fill="#1e1e1e">56</text>
<line x1="712.00" y1="115.00" x2="788.00" y2="115.00" stroke="#1e1e1e" stroke-width="0.9"/>
<line x1="748.50" y1="165.70" x2="788.00" y2="165.70" stroke="#1e1e1e" stroke-width="0.9"/>
<text x="605.11" y="214.30" font-size="11.63" textLength="25.92" lengthAdjust="spacingAndGlyphs" style="font-weight:bold;" fill="#1e1e1e">Ø6.5</text>
<line x1="605.00" y1="217.20" x2="638.00" y2="217.20" stroke="#1e1e1e" stroke-width="1.0"/>
<line x1="638.00" y1="217.20" x2="648.30" y2="200.40" stroke="#1e1e1e" stroke-width="1.0"/>
<text x="669.93" y="228.40" font-size="12.79" textLength="14.30" lengthAdjust="spacingAndGlyphs" style="font-weight:bold;" fill="#1e1e1e">60</text>
<line x1="647.70" y1="230.80" x2="705.80" y2="230.80" stroke="#1e1e1e" stroke-width="0.9"/>
<path d="M647.70,230.80 L654.70,229.10 L654.70,232.50 Z" fill="#1e1e1e" stroke="none"/>
<path d="M705.80,230.80 L698.80,232.50 L698.80,229.10 Z" fill="#1e1e1e" stroke="none"/>
<line x1="647.70" y1="212.00" x2="647.70" y2="232.00" stroke="#1e1e1e" stroke-width="0.9"/>
<line x1="705.80" y1="212.00" x2="705.80" y2="232.00" stroke="#1e1e1e" stroke-width="0.9"/>
<text x="669.84" y="245.00" font-size="11.34" textLength="14.39" lengthAdjust="spacingAndGlyphs" style="font-weight:bold;" fill="#1e1e1e">70</text>
<line x1="641.90" y1="248.10" x2="712.50" y2="248.10" stroke="#1e1e1e" stroke-width="0.9"/>
<path d="M641.90,248.10 L648.90,246.40 L648.90,249.80 Z" fill="#1e1e1e" stroke="none"/>
<path d="M712.50,248.10 L705.50,249.80 L705.50,246.40 Z" fill="#1e1e1e" stroke="none"/>
<text x="669.85" y="263.00" font-size="11.77" textLength="14.32" lengthAdjust="spacingAndGlyphs" style="font-weight:bold;" fill="#1e1e1e">73</text>
<line x1="641.00" y1="266.10" x2="713.10" y2="266.10" stroke="#1e1e1e" stroke-width="0.9"/>
<path d="M641.00,266.10 L648.00,264.40 L648.00,267.80 Z" fill="#1e1e1e" stroke="none"/>
<path d="M713.10,266.10 L706.10,267.80 L706.10,264.40 Z" fill="#1e1e1e" stroke="none"/>
<line x1="641.50" y1="212.00" x2="641.50" y2="268.00" stroke="#1e1e1e" stroke-width="0.9"/>
<line x1="712.80" y1="212.00" x2="712.80" y2="268.00" stroke="#1e1e1e" stroke-width="0.9"/>
<text x="271.37" y="287.70" font-size="12.50" textLength="24.28" lengthAdjust="spacingAndGlyphs" style="font-weight:bold;" fill="#1e1e1e">20.5</text>
<line x1="268.80" y1="290.50" x2="323.30" y2="290.50" stroke="#1e1e1e" stroke-width="1.0"/>
<path d="M304.20,290.50 L310.20,289.00 L310.20,292.00 Z" fill="#1e1e1e" stroke="none"/>
<path d="M321.60,290.50 L315.60,292.00 L315.60,289.00 Z" fill="#1e1e1e" stroke="none"/>
<line x1="304.20" y1="290.50" x2="304.20" y2="304.00" stroke="#1e1e1e" stroke-width="0.9"/>
<line x1="321.60" y1="290.50" x2="321.60" y2="305.00" stroke="#1e1e1e" stroke-width="0.9"/>
<circle cx="313.80" cy="306.10" r="7.80" stroke="#1e1e1e" stroke-width="2.2" fill="none"/>
<line x1="313.80" y1="298.00" x2="313.80" y2="314.00" stroke="#1e1e1e" stroke-width="0.8"/>
<line x1="306.00" y1="306.10" x2="322.00" y2="306.10" stroke="#1e1e1e" stroke-width="0.8"/>
<circle cx="313.80" cy="306.10" r="2.00" stroke="#1e1e1e" stroke-width="0.8" fill="none"/>
<line x1="298.60" y1="290.50" x2="298.60" y2="327.00" stroke="#1e1e1e" stroke-width="1.0"/>
<path d="M298.60,303.40 L297.10,297.40 L300.10,297.40 Z" fill="#1e1e1e" stroke="none"/>
<path d="M298.60,308.60 L300.10,314.60 L297.10,314.60 Z" fill="#1e1e1e" stroke="none"/>
<rect x="298.60" y="303.40" width="7.00" height="5.20" rx="0" stroke="#1e1e1e" stroke-width="0.9" fill="none"/>
<text x="289.76" y="324.80" font-size="11.77" textLength="6.67" lengthAdjust="spacingAndGlyphs" style="font-weight:bold;" fill="#1e1e1e">6</text>
<line x1="290.00" y1="327.00" x2="298.60" y2="327.00" stroke="#1e1e1e" stroke-width="1.0"/>
<line x1="318.90" y1="313.80" x2="328.50" y2="327.30" stroke="#1e1e1e" stroke-width="1.0"/>
<line x1="328.50" y1="327.30" x2="349.80" y2="327.30" stroke="#1e1e1e" stroke-width="1.0"/>
<text x="332.76" y="324.80" font-size="10.76" textLength="17.50" lengthAdjust="spacingAndGlyphs" style="font-weight:bold;" fill="#1e1e1e">M6</text>
<text x="389.85" y="268.70" font-size="10.47" textLength="20.30" lengthAdjust="spacingAndGlyphs" style="font-weight:bold;" fill="#1e1e1e">-0.01</text>
<text x="389.85" y="275.00" font-size="9.45" textLength="20.41" lengthAdjust="spacingAndGlyphs" style="font-weight:bold;" fill="#1e1e1e">-0.02</text>
<text x="379.00" y="283.80" font-size="11.48" textLength="14.09" lengthAdjust="spacingAndGlyphs" style="font-weight:bold;" fill="#1e1e1e">18</text>
<line x1="378.00" y1="286.50" x2="393.90" y2="286.50" stroke="#1e1e1e" stroke-width="1.0"/>
<line x1="378.00" y1="286.50" x2="378.00" y2="326.80" stroke="#1e1e1e" stroke-width="1.0"/>
<path d="M378.00,298.00 L376.50,292.00 L379.50,292.00 Z" fill="#1e1e1e" stroke="none"/>
<path d="M378.00,314.50 L379.50,320.50 L376.50,320.50 Z" fill="#1e1e1e" stroke="none"/>
<line x1="378.00" y1="298.00" x2="393.30" y2="298.00" stroke="#1e1e1e" stroke-width="0.9"/>
<line x1="378.00" y1="314.50" x2="393.30" y2="314.50" stroke="#1e1e1e" stroke-width="0.9"/>
<rect x="393.30" y="298.00" width="31.90" height="16.50" rx="0" stroke="#1e1e1e" stroke-width="1.6" fill="none"/>
<line x1="393.80" y1="298.00" x2="393.80" y2="314.50" stroke="#1e1e1e" stroke-width="2.6"/>
<path d="M396.4,306.5 L399.5,303.5 L418.5,303.5 L421.5,306.5 L418.5,309.5 L399.5,309.5 Z" stroke="#1e1e1e" stroke-width="1.0" fill="none" />
<line x1="398.50" y1="302.50" x2="398.50" y2="310.50" stroke="#1e1e1e" stroke-width="0.9"/>
<line x1="419.50" y1="302.50" x2="419.50" y2="310.50" stroke="#1e1e1e" stroke-width="0.9"/>
<line x1="380.00" y1="306.50" x2="548.00" y2="306.50" stroke="#1e1e1e" stroke-width="0.8" stroke-dasharray="9 2 2 2"/>
<defs><pattern id="hat" patternUnits="userSpaceOnUse" width="4" height="4" patternTransform="rotate(45)"><line x1="0" y1="0" x2="0" y2="4" stroke="#1e1e1e" stroke-width="1.5"/></pattern></defs>
<path d="M424.6,291.2 L444.8,291.2 L444.8,289.4 L485.8,289.4 L485.8,291.2 L503.4,291.2 L503.4,298 L424.6,298 Z" stroke="#1e1e1e" stroke-width="1.3" fill="url(#hat)" />
<path d="M424.6,320.6 L444.8,320.6 L444.8,322.2 L485.8,322.2 L485.8,320.6 L503.4,320.6 L503.4,314.5 L424.6,314.5 Z" stroke="#1e1e1e" stroke-width="1.3" fill="url(#hat)" />
<line x1="424.60" y1="298.00" x2="424.60" y2="314.50" stroke="#1e1e1e" stroke-width="1.3"/>
<line x1="503.40" y1="298.00" x2="503.40" y2="314.50" stroke="#1e1e1e" stroke-width="1.3"/>
<line x1="424.80" y1="296.00" x2="424.80" y2="318.00" stroke="#1e1e1e" stroke-width="3.0"/>
<line x1="503.40" y1="294.00" x2="503.40" y2="316.00" stroke="#1e1e1e" stroke-width="2.0"/>
<path d="M455,289.4 L458,287 L462,289.4 M455,322.2 L458,324.8 L462,322.2" stroke="#1e1e1e" stroke-width="1.2" fill="none" />
<path d="M429,306.5 L432,303.5 L450,303.5 L453,306.5 L450,309.5 L432,309.5 Z" stroke="#1e1e1e" stroke-width="1.0" fill="none" />
<path d="M467,306.5 L470,303.5 L488,303.5 L491,306.5 L488,309.5 L470,309.5 Z" stroke="#1e1e1e" stroke-width="1.0" fill="none" />
<line x1="452.00" y1="298.50" x2="452.00" y2="314.00" stroke="#1e1e1e" stroke-width="1.0"/>
<line x1="484.00" y1="298.50" x2="484.00" y2="314.00" stroke="#1e1e1e" stroke-width="1.0"/>
<rect x="505.70" y="297.70" width="31.60" height="16.20" rx="0" stroke="#1e1e1e" stroke-width="1.6" fill="none"/>
<line x1="536.80" y1="297.70" x2="536.80" y2="313.90" stroke="#1e1e1e" stroke-width="2.6"/>
<path d="M509,306.5 L512,303.5 L529,303.5 L532,306.5 L529,309.5 L512,309.5 Z" stroke="#1e1e1e" stroke-width="1.0" fill="none" />
<line x1="511.00" y1="302.50" x2="511.00" y2="310.50" stroke="#1e1e1e" stroke-width="0.9"/>
<line x1="530.00" y1="302.50" x2="530.00" y2="310.50" stroke="#1e1e1e" stroke-width="0.9"/>
<line x1="503.40" y1="297.00" x2="505.70" y2="297.00" stroke="#1e1e1e" stroke-width="1.0"/>
<line x1="503.40" y1="314.50" x2="505.70" y2="314.50" stroke="#1e1e1e" stroke-width="1.0"/>
<text x="561.25" y="268.70" font-size="10.47" textLength="20.30" lengthAdjust="spacingAndGlyphs" style="font-weight:bold;" fill="#1e1e1e">-0.01</text>
<text x="561.25" y="275.00" font-size="9.45" textLength="20.41" lengthAdjust="spacingAndGlyphs" style="font-weight:bold;" fill="#1e1e1e">-0.02</text>
<text x="550.57" y="283.70" font-size="11.77" textLength="12.89" lengthAdjust="spacingAndGlyphs" style="font-weight:bold;" fill="#1e1e1e">18</text>
<line x1="548.00" y1="286.20" x2="563.80" y2="286.20" stroke="#1e1e1e" stroke-width="1.0"/>
<line x1="548.00" y1="286.20" x2="548.00" y2="326.40" stroke="#1e1e1e" stroke-width="1.0"/>
<path d="M548.00,297.70 L546.50,291.70 L549.50,291.70 Z" fill="#1e1e1e" stroke="none"/>
<path d="M548.00,313.90 L549.50,319.90 L546.50,319.90 Z" fill="#1e1e1e" stroke="none"/>
<line x1="537.00" y1="297.70" x2="548.00" y2="297.70" stroke="#1e1e1e" stroke-width="0.9"/>
<line x1="537.00" y1="313.90" x2="548.00" y2="313.90" stroke="#1e1e1e" stroke-width="0.9"/>
<text x="402.32" y="328.60" font-size="11.63" textLength="12.95" lengthAdjust="spacingAndGlyphs" style="font-weight:bold;" fill="#1e1e1e">40</text>
<line x1="393.30" y1="331.70" x2="425.20" y2="331.70" stroke="#1e1e1e" stroke-width="0.9"/>
<path d="M393.30,331.70 L400.30,330.00 L400.30,333.40 Z" fill="#1e1e1e" stroke="none"/>
<path d="M425.20,331.70 L418.20,333.40 L418.20,330.00 Z" fill="#1e1e1e" stroke="none"/>
<text x="398.61" y="345.80" font-size="10.76" textLength="23.83" lengthAdjust="spacingAndGlyphs" style="font-weight:bold;" fill="#1e1e1e">44.5</text>
<line x1="393.30" y1="348.30" x2="427.00" y2="348.30" stroke="#1e1e1e" stroke-width="0.9"/>
<path d="M393.30,348.30 L400.30,346.60 L400.30,350.00 Z" fill="#1e1e1e" stroke="none"/>
<path d="M427.00,348.30 L420.00,350.00 L420.00,346.60 Z" fill="#1e1e1e" stroke="none"/>
<line x1="393.30" y1="314.00" x2="393.30" y2="350.00" stroke="#1e1e1e" stroke-width="0.9"/>
<line x1="427.00" y1="320.00" x2="427.00" y2="350.00" stroke="#1e1e1e" stroke-width="0.9"/>
<text x="457.07" y="345.80" font-size="10.76" textLength="14.97" lengthAdjust="spacingAndGlyphs" style="font-weight:bold;" fill="#1e1e1e">82</text>
<line x1="427.00" y1="348.30" x2="503.70" y2="348.30" stroke="#1e1e1e" stroke-width="0.9"/>
<path d="M427.00,348.30 L434.00,346.60 L434.00,350.00 Z" fill="#1e1e1e" stroke="none"/>
<path d="M503.70,348.30 L496.70,350.00 L496.70,346.60 Z" fill="#1e1e1e" stroke="none"/>
<text x="515.82" y="328.60" font-size="10.61" textLength="13.16" lengthAdjust="spacingAndGlyphs" style="font-weight:bold;" fill="#1e1e1e">40</text>
<line x1="505.70" y1="331.30" x2="537.30" y2="331.30" stroke="#1e1e1e" stroke-width="0.9"/>
<path d="M505.70,331.30 L512.70,329.60 L512.70,333.00 Z" fill="#1e1e1e" stroke="none"/>
<path d="M537.30,331.30 L530.30,333.00 L530.30,329.60 Z" fill="#1e1e1e" stroke="none"/>
<text x="508.41" y="345.10" font-size="10.03" textLength="24.13" lengthAdjust="spacingAndGlyphs" style="font-weight:bold;" fill="#1e1e1e">44.5</text>
<line x1="503.70" y1="348.00" x2="537.30" y2="348.00" stroke="#1e1e1e" stroke-width="0.9"/>
<path d="M503.70,348.00 L510.70,346.30 L510.70,349.70 Z" fill="#1e1e1e" stroke="none"/>
<path d="M537.30,348.00 L530.30,349.70 L530.30,346.30 Z" fill="#1e1e1e" stroke="none"/>
<line x1="503.70" y1="320.00" x2="503.70" y2="350.00" stroke="#1e1e1e" stroke-width="0.9"/>
<line x1="505.70" y1="314.00" x2="505.70" y2="333.00" stroke="#1e1e1e" stroke-width="0.9"/>
<line x1="537.30" y1="314.00" x2="537.30" y2="350.00" stroke="#1e1e1e" stroke-width="0.9"/>
<text x="12.48" y="460.80" font-size="14.97" textLength="66.94" lengthAdjust="spacingAndGlyphs" style="font-weight:bold;" fill="#1e1e1e">EV040.05</text>
<text x="15.14" y="544.70" font-size="8.87" textLength="13.74" lengthAdjust="spacingAndGlyphs" style="font-weight:bold;" fill="#1e1e1e">M5</text>
<line x1="15.00" y1="546.60" x2="29.00" y2="546.60" stroke="#1e1e1e" stroke-width="1.0"/>
<line x1="29.00" y1="546.60" x2="41.00" y2="553.00" stroke="#1e1e1e" stroke-width="1.0"/>
<text x="41.83" y="542.40" font-size="12.21" textLength="6.71" lengthAdjust="spacingAndGlyphs" style="font-weight:bold;" fill="#1e1e1e">5</text>
<line x1="32.00" y1="544.20" x2="58.00" y2="544.20" stroke="#1e1e1e" stroke-width="0.9"/>
<path d="M42.70,544.20 L36.70,545.70 L36.70,542.70 Z" fill="#1e1e1e" stroke="none"/>
<path d="M47.70,544.20 L53.70,542.70 L53.70,545.70 Z" fill="#1e1e1e" stroke="none"/>
<line x1="43.00" y1="545.00" x2="43.00" y2="551.00" stroke="#1e1e1e" stroke-width="0.9"/>
<line x1="47.50" y1="545.00" x2="47.50" y2="551.00" stroke="#1e1e1e" stroke-width="0.9"/>
<circle cx="45.20" cy="556.40" r="5.80" stroke="#1e1e1e" stroke-width="2.0" fill="none"/>
<line x1="45.20" y1="551.00" x2="45.20" y2="562.00" stroke="#1e1e1e" stroke-width="0.8"/>
<line x1="40.00" y1="556.40" x2="50.50" y2="556.40" stroke="#1e1e1e" stroke-width="0.8"/>
<text x="13.92" y="565.00" font-size="9.88" textLength="17.74" lengthAdjust="spacingAndGlyphs" style="font-weight:bold;" fill="#1e1e1e">Ø14</text>
<line x1="14.00" y1="566.50" x2="37.50" y2="566.50" stroke="#1e1e1e" stroke-width="1.0"/>
<line x1="37.50" y1="566.50" x2="42.00" y2="560.00" stroke="#1e1e1e" stroke-width="1.0"/>
<text x="67.75" y="536.10" font-size="10.47" textLength="13.28" lengthAdjust="spacingAndGlyphs" style="font-weight:bold;" fill="#1e1e1e">16</text>
<line x1="67.50" y1="537.60" x2="81.00" y2="537.60" stroke="#1e1e1e" stroke-width="1.0"/>
<line x1="67.50" y1="537.60" x2="67.50" y2="573.30" stroke="#1e1e1e" stroke-width="1.0"/>
<line x1="46.00" y1="549.20" x2="67.50" y2="549.20" stroke="#1e1e1e" stroke-width="0.9"/>
<line x1="46.00" y1="562.30" x2="67.50" y2="562.30" stroke="#1e1e1e" stroke-width="0.9"/>
<path d="M67.50,549.20 L66.00,543.20 L69.00,543.20 Z" fill="#1e1e1e" stroke="none"/>
<path d="M67.50,562.30 L69.00,568.30 L66.00,568.30 Z" fill="#1e1e1e" stroke="none"/>
<text x="145.43" y="515.90" font-size="10.32" textLength="13.30" lengthAdjust="spacingAndGlyphs" style="font-weight:bold;" fill="#1e1e1e">56</text>
<line x1="132.20" y1="518.40" x2="174.70" y2="518.40" stroke="#1e1e1e" stroke-width="0.9"/>
<path d="M132.20,518.40 L139.20,516.70 L139.20,520.10 Z" fill="#1e1e1e" stroke="none"/>
<path d="M174.70,518.40 L167.70,520.10 L167.70,516.70 Z" fill="#1e1e1e" stroke="none"/>
<line x1="132.20" y1="517.00" x2="132.20" y2="534.00" stroke="#1e1e1e" stroke-width="0.9"/>
<line x1="174.70" y1="517.00" x2="174.70" y2="551.00" stroke="#1e1e1e" stroke-width="0.9"/>
<text x="112.14" y="532.70" font-size="10.03" textLength="12.52" lengthAdjust="spacingAndGlyphs" style="font-weight:bold;" fill="#1e1e1e">30</text>
<line x1="106.00" y1="535.30" x2="129.60" y2="535.30" stroke="#1e1e1e" stroke-width="0.9"/>
<path d="M106.00,535.30 L113.00,533.60 L113.00,537.00 Z" fill="#1e1e1e" stroke="none"/>
<path d="M129.60,535.30 L122.60,537.00 L122.60,533.60 Z" fill="#1e1e1e" stroke="none"/>
<line x1="106.50" y1="534.00" x2="106.50" y2="550.00" stroke="#1e1e1e" stroke-width="0.9"/>
<rect x="106.70" y="550.00" width="24.30" height="12.60" rx="0" stroke="#1e1e1e" stroke-width="1.8" fill="none"/>
<line x1="106.80" y1="550.00" x2="106.80" y2="562.60" stroke="#1e1e1e" stroke-width="2.5"/>
<line x1="106.70" y1="550.30" x2="131.00" y2="550.30" stroke="#1e1e1e" stroke-width="2.2"/>
<line x1="106.00" y1="556.40" x2="180.00" y2="556.40" stroke="#1e1e1e" stroke-width="0.8" stroke-dasharray="9 2 2 2"/>
<path d="M132.2,592 L132.2,534.4 L153,534.4 Q155.1,534.4 156,536.5 L160.4,551" stroke="#1e1e1e" stroke-width="1.3" fill="none" />
<path d="M135.5,559.3 L135.5,538.6 L156.6,538.6 L158.5,551" stroke="#1e1e1e" stroke-width="1.1" fill="none" />
<line x1="157.50" y1="545.00" x2="160.00" y2="544.50" stroke="#1e1e1e" stroke-width="1.0"/>
<line x1="131.80" y1="549.10" x2="131.80" y2="574.70" stroke="#1e1e1e" stroke-width="2.4"/>
<path d="M132.5,592.4 Q157.15,581.95 179.6,539.7" stroke="#1e1e1e" stroke-width="1.3" fill="none" />
<path d="M174.7,551.4 L145,551.4 Q141.5,551.8 141.9,554 Q142.3,555.8 143.1,556.6 L146.8,560.4 Q148.5,564 144.6,565.7 Q142,566 140,563.5 L135.5,559.3" stroke="#1e1e1e" stroke-width="1.2" fill="none" />
<line x1="157.00" y1="540.40" x2="178.00" y2="540.40" stroke="#1e1e1e" stroke-width="1.0"/>
<rect x="163.20" y="536.30" width="2.00" height="15.10" rx="0" stroke="#1e1e1e" stroke-width="1.0" fill="none"/>
<line x1="170.60" y1="536.30" x2="170.60" y2="551.40" stroke="#1e1e1e" stroke-width="2.2"/>
<line x1="177.00" y1="536.30" x2="177.00" y2="551.40" stroke="#1e1e1e" stroke-width="2.2"/>
<text x="13.81" y="619.10" font-size="11.77" textLength="61.67" lengthAdjust="spacingAndGlyphs" style="font-weight:bold;" fill="#1e1e1e" xml:space="preserve">Opsiyonel </text>
<text x="75.48" y="619.10" font-size="11.77" textLength="6.70" lengthAdjust="spacingAndGlyphs" style="stroke:#1e1e1e;stroke-width:0.35px;" fill="#1e1e1e" xml:space="preserve">/ </text>
<text x="82.18" y="619.10" font-size="11.77" textLength="44.93" lengthAdjust="spacingAndGlyphs" style="font-style:italic;stroke:#1e1e1e;stroke-width:0.35px;" fill="#1e1e1e" xml:space="preserve">Optional</text>
<text x="127.11" y="619.10" font-size="11.77" textLength="10.05" lengthAdjust="spacingAndGlyphs" style="stroke:#1e1e1e;stroke-width:0.35px;" fill="#1e1e1e" xml:space="preserve"> / </text>
<text x="137.17" y="619.10" font-size="11.77" textLength="63.03" lengthAdjust="spacingAndGlyphs" style="stroke:#1e1e1e;stroke-width:0.35px;" fill="#1e1e1e" xml:space="preserve">Auswählbar</text>
<text x="70.00" y="632.60" font-size="11.77" textLength="72.71" lengthAdjust="spacingAndGlyphs" style="font-weight:bold;" fill="#1e1e1e">EV040.05-06.</text>
<circle cx="152.20" cy="638.80" r="0.70" stroke="#1e1e1e" stroke-width="0" fill="#1e1e1e"/>
<g transform="translate(-5,431.5)">
<text x="393.56" y="31.00" font-size="12.35" textLength="13.37" lengthAdjust="spacingAndGlyphs" style="font-weight:bold;" fill="#1e1e1e">k1</text>
<line x1="266.30" y1="32.80" x2="536.70" y2="32.80" stroke="#1e1e1e" stroke-width="0.9"/>
<path d="M266.30,32.80 L273.30,31.10 L273.30,34.50 Z" fill="#1e1e1e" stroke="none"/>
<path d="M536.70,32.80 L529.70,34.50 L529.70,31.10 Z" fill="#1e1e1e" stroke="none"/>
<text x="387.08" y="45.80" font-size="12.14" textLength="7.30" lengthAdjust="spacingAndGlyphs" style="font-weight:bold;" fill="#1e1e1e">k</text>
<line x1="266.30" y1="48.30" x2="517.00" y2="48.30" stroke="#1e1e1e" stroke-width="0.9"/>
<path d="M266.30,48.30 L273.30,46.60 L273.30,50.00 Z" fill="#1e1e1e" stroke="none"/>
<path d="M517.00,48.30 L510.00,50.00 L510.00,46.60 Z" fill="#1e1e1e" stroke="none"/>
<text x="303.11" y="69.00" font-size="13.37" textLength="21.05" lengthAdjust="spacingAndGlyphs" style="font-weight:bold;" fill="#1e1e1e">103</text>
<line x1="266.30" y1="71.50" x2="362.00" y2="71.50" stroke="#1e1e1e" stroke-width="0.9"/>
<path d="M266.30,71.50 L273.30,69.80 L273.30,73.20 Z" fill="#1e1e1e" stroke="none"/>
<path d="M362.00,71.50 L355.00,73.20 L355.00,69.80 Z" fill="#1e1e1e" stroke="none"/>
<text x="277.62" y="86.90" font-size="13.08" textLength="24.33" lengthAdjust="spacingAndGlyphs" style="font-weight:bold;" fill="#1e1e1e">51.5</text>
<line x1="266.30" y1="88.90" x2="313.80" y2="88.90" stroke="#1e1e1e" stroke-width="0.9"/>
<path d="M266.30,88.90 L273.30,87.20 L273.30,90.60 Z" fill="#1e1e1e" stroke="none"/>
<path d="M313.80,88.90 L306.80,90.60 L306.80,87.20 Z" fill="#1e1e1e" stroke="none"/>
<line x1="266.30" y1="30.00" x2="266.30" y2="101.00" stroke="#1e1e1e" stroke-width="1.0"/>
<line x1="362.00" y1="69.00" x2="362.00" y2="101.00" stroke="#1e1e1e" stroke-width="1.0"/>
<line x1="536.70" y1="30.00" x2="536.70" y2="95.00" stroke="#1e1e1e" stroke-width="1.0"/>
<line x1="517.00" y1="46.00" x2="517.00" y2="93.00" stroke="#1e1e1e" stroke-width="1.0"/>
<rect x="370.00" y="92.40" width="8.00" height="66.20" rx="0" stroke="#1e1e1e" stroke-width="1.3" fill="none"/>
<path d="M378,92.4 L384.5,92.4 Q390,91.8 394.4,89.4 M394.4,163 Q390,159.2 384.5,158.6 L378,158.6" stroke="#1e1e1e" stroke-width="1.3" fill="none" />
<line x1="381.50" y1="92.40" x2="381.50" y2="158.60" stroke="#1e1e1e" stroke-width="1.0"/>
<line x1="386.00" y1="92.40" x2="386.00" y2="158.60" stroke="#1e1e1e" stroke-width="1.0"/>
<line x1="395.60" y1="88.70" x2="395.60" y2="168.50" stroke="#1e1e1e" stroke-width="2.2"/>
<line x1="395.60" y1="88.70" x2="470.40" y2="88.70" stroke="#1e1e1e" stroke-width="1.2"/>
<line x1="400.50" y1="104.70" x2="470.40" y2="104.70" stroke="#1e1e1e" stroke-width="1.8"/>
<line x1="400.50" y1="111.30" x2="470.40" y2="111.30" stroke="#1e1e1e" stroke-width="1.8"/>
<line x1="400.50" y1="117.40" x2="470.40" y2="117.40" stroke="#1e1e1e" stroke-width="1.8"/>
<line x1="400.50" y1="123.00" x2="470.40" y2="123.00" stroke="#1e1e1e" stroke-width="1.8"/>
<line x1="400.50" y1="129.70" x2="470.40" y2="129.70" stroke="#1e1e1e" stroke-width="1.8"/>
<line x1="400.50" y1="135.30" x2="470.40" y2="135.30" stroke="#1e1e1e" stroke-width="1.8"/>
<line x1="400.50" y1="142.00" x2="470.40" y2="142.00" stroke="#1e1e1e" stroke-width="1.8"/>
<line x1="400.50" y1="147.60" x2="470.40" y2="147.60" stroke="#1e1e1e" stroke-width="1.8"/>
<line x1="400.50" y1="153.70" x2="470.40" y2="153.70" stroke="#1e1e1e" stroke-width="1.8"/>
<rect x="400.50" y="160.00" width="70.00" height="6.00" rx="0" stroke="#1e1e1e" stroke-width="1.0" fill="none"/>
<line x1="400.50" y1="167.20" x2="470.40" y2="167.20" stroke="#1e1e1e" stroke-width="3.0"/>
<rect x="401.00" y="81.50" width="17.00" height="7.20" rx="0" stroke="#1e1e1e" stroke-width="1.0" fill="none"/>
<rect x="450.00" y="81.50" width="10.00" height="7.20" rx="0" stroke="#1e1e1e" stroke-width="1.0" fill="none"/>
<path d="M418,84 L418,98 L450,98 L450,84" stroke="#1e1e1e" stroke-width="1.0" fill="none" />
<path d="M407.9,85 L407.9,61 L460.1,61 L460.1,85" stroke="#1e1e1e" stroke-width="1.5" fill="none" />
<line x1="407.50" y1="58.50" x2="460.50" y2="58.50" stroke="#1e1e1e" stroke-width="3.2"/>
<line x1="418.00" y1="61.00" x2="418.00" y2="84.00" stroke="#1e1e1e" stroke-width="1.0"/>
<line x1="450.00" y1="61.00" x2="450.00" y2="84.00" stroke="#1e1e1e" stroke-width="1.0"/>
<path d="M426.5,77.7 L430,71.5 L437,71.5 L440.5,77.7 L437,83.9 L430,83.9 Z" stroke="#1e1e1e" stroke-width="1.3" fill="none" />
<circle cx="433.60" cy="77.70" r="4.30" stroke="#1e1e1e" stroke-width="1.4" fill="none"/>
<line x1="460.00" y1="57.30" x2="485.00" y2="57.30" stroke="#1e1e1e" stroke-width="0.9"/>
<path d="M470.4,83.3 L497,83.3 Q517,83.3 517,103 L517,148 Q517,168.5 497,168.5 L470.4,168.5" stroke="#1e1e1e" stroke-width="1.6" fill="none" />
<line x1="470.40" y1="83.30" x2="470.40" y2="168.50" stroke="#1e1e1e" stroke-width="1.2"/>
<line x1="515.50" y1="97.00" x2="515.50" y2="155.00" stroke="#1e1e1e" stroke-width="3.0"/>
<path d="M517,83.3 L521,83.3 Q535.5,83.3 535.5,100 M535.5,151 Q535.5,168.5 521,168.5 L517,168.5" stroke="#1e1e1e" stroke-width="1.0" fill="none" />
<line x1="535.50" y1="100.00" x2="535.50" y2="151.00" stroke="#1e1e1e" stroke-width="2.4" stroke-dasharray="7 1.5 2 1.5"/>
<line x1="482.70" y1="57.80" x2="482.70" y2="126.20" stroke="#1e1e1e" stroke-width="0.9"/>
<path d="M482.70,57.80 L484.40,64.80 L481.00,64.80 Z" fill="#1e1e1e" stroke="none"/>
<path d="M482.70,126.20 L481.00,119.20 L484.40,119.20 Z" fill="#1e1e1e" stroke="none"/>
<rect x="474.30" y="97.00" width="16.50" height="11.60" fill="#fff"/>
<text x="474.97" y="107.10" font-size="12.50" textLength="14.68" lengthAdjust="spacingAndGlyphs" style="font-weight:bold;" fill="#1e1e1e">n1</text>
<line x1="495.70" y1="83.80" x2="495.70" y2="168.00" stroke="#1e1e1e" stroke-width="0.9"/>
<path d="M495.70,83.80 L497.40,90.80 L494.00,90.80 Z" fill="#1e1e1e" stroke="none"/>
<path d="M495.70,168.00 L494.00,161.00 L497.40,161.00 Z" fill="#1e1e1e" stroke="none"/>
<rect x="489.80" y="140.00" width="10.40" height="10.30" fill="#fff"/>
<text x="490.29" y="148.80" font-size="13.54" textLength="9.36" lengthAdjust="spacingAndGlyphs" style="font-weight:bold;" fill="#1e1e1e">n</text>
</g>
<line x1="261.00" y1="557.30" x2="535.00" y2="557.30" stroke="#1e1e1e" stroke-width="0.8" stroke-dasharray="9 2 2 2"/>
<text x="224.10" y="521.00" font-size="12.50" textLength="22.89" lengthAdjust="spacingAndGlyphs" style="font-weight:bold;" fill="#1e1e1e">Ø90</text>
<line x1="224.00" y1="523.50" x2="248.40" y2="523.50" stroke="#1e1e1e" stroke-width="1.0"/>
<line x1="248.40" y1="523.50" x2="274.80" y2="557.30" stroke="#1e1e1e" stroke-width="1.0"/>
<text x="224.11" y="551.90" font-size="11.63" textLength="22.73" lengthAdjust="spacingAndGlyphs" style="font-weight:bold;" fill="#1e1e1e">Ø75</text>
<line x1="224.00" y1="554.80" x2="248.40" y2="554.80" stroke="#1e1e1e" stroke-width="1.0"/>
<line x1="248.40" y1="554.80" x2="261.80" y2="563.00" stroke="#1e1e1e" stroke-width="1.0"/>
<line x1="213.50" y1="532.90" x2="213.50" y2="643.60" stroke="#1e1e1e" stroke-width="0.9"/>
<path d="M213.50,532.90 L215.20,539.90 L211.80,539.90 Z" fill="#1e1e1e" stroke="none"/>
<path d="M213.50,643.60 L211.80,636.60 L215.20,636.60 Z" fill="#1e1e1e" stroke="none"/>
<rect x="202.10" y="582.90" width="22.10" height="11.70" fill="#fff"/>
<text x="202.83" y="593.10" font-size="12.65" textLength="20.36" lengthAdjust="spacingAndGlyphs" style="font-weight:bold;" fill="#1e1e1e">122</text>
<line x1="211.00" y1="532.40" x2="262.00" y2="532.40" stroke="#1e1e1e" stroke-width="0.9"/>
<line x1="211.00" y1="644.10" x2="262.00" y2="644.10" stroke="#1e1e1e" stroke-width="0.9"/>
<line x1="249.00" y1="596.90" x2="249.00" y2="643.60" stroke="#1e1e1e" stroke-width="0.9"/>
<path d="M249.00,596.90 L250.70,603.90 L247.30,603.90 Z" fill="#1e1e1e" stroke="none"/>
<path d="M249.00,643.60 L247.30,636.60 L250.70,636.60 Z" fill="#1e1e1e" stroke="none"/>
<rect x="241.20" y="614.90" width="16.00" height="11.60" fill="#fff"/>
<text x="242.32" y="625.00" font-size="12.50" textLength="13.90" lengthAdjust="spacingAndGlyphs" style="font-weight:bold;" fill="#1e1e1e">50</text>
<line x1="247.00" y1="596.40" x2="262.00" y2="596.40" stroke="#1e1e1e" stroke-width="0.9"/>
<text x="223.59" y="634.50" font-size="10.90" textLength="6.54" lengthAdjust="spacingAndGlyphs" style="font-weight:bold;" fill="#1e1e1e">9</text>
<line x1="224.00" y1="637.00" x2="231.30" y2="637.00" stroke="#1e1e1e" stroke-width="1.0"/>
<line x1="231.30" y1="637.00" x2="261.80" y2="666.00" stroke="#1e1e1e" stroke-width="1.0"/>
<path d="M246.50,649.80 L241.13,646.69 L243.39,644.43 Z" fill="#1e1e1e" stroke="none"/>
<path d="M256.00,659.40 L261.37,662.51 L259.11,664.77 Z" fill="#1e1e1e" stroke="none"/>
<line x1="248.40" y1="650.80" x2="271.30" y2="627.90" stroke="#1e1e1e" stroke-width="0.9"/>
<line x1="255.00" y1="657.50" x2="274.80" y2="641.20" stroke="#1e1e1e" stroke-width="0.9"/>
<text x="301.65" y="660.20" font-size="11.92" textLength="14.28" lengthAdjust="spacingAndGlyphs" style="font-weight:bold;" fill="#1e1e1e">70</text>
<line x1="275.20" y1="662.40" x2="344.10" y2="662.40" stroke="#1e1e1e" stroke-width="0.9"/>
<path d="M275.20,662.40 L282.20,660.70 L282.20,664.10 Z" fill="#1e1e1e" stroke="none"/>
<path d="M344.10,662.40 L337.10,664.10 L337.10,660.70 Z" fill="#1e1e1e" stroke="none"/>
<line x1="275.20" y1="640.00" x2="275.20" y2="664.00" stroke="#1e1e1e" stroke-width="0.9"/>
<line x1="344.10" y1="640.00" x2="344.10" y2="664.00" stroke="#1e1e1e" stroke-width="0.9"/>
<text x="301.65" y="677.90" font-size="11.92" textLength="14.22" lengthAdjust="spacingAndGlyphs" style="font-weight:bold;" fill="#1e1e1e">79</text>
<line x1="264.20" y1="680.10" x2="355.60" y2="680.10" stroke="#1e1e1e" stroke-width="0.9"/>
<path d="M264.20,680.10 L271.20,678.40 L271.20,681.80 Z" fill="#1e1e1e" stroke="none"/>
<path d="M355.60,680.10 L348.60,681.80 L348.60,678.40 Z" fill="#1e1e1e" stroke="none"/>
<line x1="264.20" y1="644.00" x2="264.20" y2="682.00" stroke="#1e1e1e" stroke-width="0.9"/>
<line x1="355.60" y1="644.00" x2="355.60" y2="682.00" stroke="#1e1e1e" stroke-width="0.9"/>
<text x="364.68" y="660.00" font-size="11.63" textLength="6.33" lengthAdjust="spacingAndGlyphs" style="font-weight:bold;" fill="#1e1e1e">6</text>
<line x1="373.30" y1="627.00" x2="373.30" y2="661.80" stroke="#1e1e1e" stroke-width="0.9"/>
<line x1="365.00" y1="661.80" x2="373.30" y2="661.80" stroke="#1e1e1e" stroke-width="0.9"/>
<path d="M373.30,639.30 L371.70,633.30 L374.90,633.30 Z" fill="#1e1e1e" stroke="none"/>
<path d="M373.30,644.10 L374.90,650.10 L371.70,650.10 Z" fill="#1e1e1e" stroke="none"/>
<line x1="357.00" y1="639.30" x2="375.00" y2="639.30" stroke="#1e1e1e" stroke-width="0.9"/>
<line x1="357.00" y1="644.10" x2="375.00" y2="644.10" stroke="#1e1e1e" stroke-width="0.9"/>
<path d="M261.6,644 L261.6,532.4 L288.1,532.4 Q289.5,532.4 290.2,534.5 L291.1,538.3 L329.4,538.3 L330.3,534.5 Q330.8,532.4 332.5,532.4 L365,532.4" stroke="#1e1e1e" stroke-width="2.0" fill="none" />
<line x1="357.20" y1="532.40" x2="357.20" y2="644.00" stroke="#1e1e1e" stroke-width="1.6"/>
<path d="M266.8,556.7 L266.8,537.5 L291,537.5 M330,537.5 L352.2,537.5 L352.2,556.7" stroke="#1e1e1e" stroke-width="1.0" fill="none" />
<line x1="291.00" y1="538.30" x2="294.00" y2="552.00" stroke="#1e1e1e" stroke-width="1.0"/>
<line x1="295.00" y1="538.30" x2="297.50" y2="551.00" stroke="#1e1e1e" stroke-width="1.0"/>
<line x1="330.00" y1="538.30" x2="327.00" y2="552.00" stroke="#1e1e1e" stroke-width="1.0"/>
<line x1="326.00" y1="538.30" x2="323.50" y2="551.00" stroke="#1e1e1e" stroke-width="1.0"/>
<line x1="297.70" y1="534.60" x2="297.70" y2="549.30" stroke="#1e1e1e" stroke-width="2.0"/>
<line x1="305.10" y1="534.60" x2="305.10" y2="549.30" stroke="#1e1e1e" stroke-width="2.0"/>
<line x1="319.80" y1="534.60" x2="319.80" y2="549.30" stroke="#1e1e1e" stroke-width="2.0"/>
<rect x="311.20" y="534.60" width="2.50" height="14.70" rx="0" stroke="#1e1e1e" stroke-width="1.0" fill="none"/>
<path d="M274.1,552.2 L343.4,552.2 L351,560 M355.9,568 L355.9,630 M351,634.5 L343.4,642.1 L274.1,642.1 L266,634.5 M263.1,630 L263.1,568 M266,560 L274.1,552.2" stroke="#1e1e1e" stroke-width="2.0" fill="none" />
<line x1="263.10" y1="570.60" x2="263.10" y2="618.30" stroke="#1e1e1e" stroke-width="2.6"/>
<line x1="260.80" y1="563.00" x2="260.80" y2="576.30" stroke="#1e1e1e" stroke-width="1.2"/>
<line x1="260.80" y1="620.00" x2="260.80" y2="644.00" stroke="#1e1e1e" stroke-width="1.2"/>
<line x1="357.60" y1="562.00" x2="357.60" y2="640.00" stroke="#1e1e1e" stroke-width="1.6"/>
<g transform="translate(272,563.3) rotate(45)"><rect x="-7" y="-3.3" width="14" height="6.6" rx="3.3" fill="none" stroke="#1e1e1e" stroke-width="2.0"/><line x1="-4" y1="0" x2="4" y2="0" stroke="#1e1e1e" stroke-width="0.9"/></g>
<g transform="translate(346.5,563.3) rotate(-45)"><rect x="-7" y="-3.3" width="14" height="6.6" rx="3.3" fill="none" stroke="#1e1e1e" stroke-width="2.0"/><line x1="-4" y1="0" x2="4" y2="0" stroke="#1e1e1e" stroke-width="0.9"/></g>
<g transform="translate(272,631) rotate(-45)"><rect x="-7" y="-3.3" width="14" height="6.6" rx="3.3" fill="none" stroke="#1e1e1e" stroke-width="2.0"/><line x1="-4" y1="0" x2="4" y2="0" stroke="#1e1e1e" stroke-width="0.9"/></g>
<g transform="translate(346.5,631) rotate(45)"><rect x="-7" y="-3.3" width="14" height="6.6" rx="3.3" fill="none" stroke="#1e1e1e" stroke-width="2.0"/><line x1="-4" y1="0" x2="4" y2="0" stroke="#1e1e1e" stroke-width="0.9"/></g>
<line x1="334.96" y1="621.86" x2="342.03" y2="628.93" stroke="#1e1e1e" stroke-width="0.9"/>
<line x1="284.04" y1="621.86" x2="276.97" y2="628.93" stroke="#1e1e1e" stroke-width="0.9"/>
<line x1="284.04" y1="570.94" x2="276.97" y2="563.87" stroke="#1e1e1e" stroke-width="0.9"/>
<line x1="334.96" y1="570.94" x2="342.03" y2="563.87" stroke="#1e1e1e" stroke-width="0.9"/>
<circle cx="309.50" cy="596.40" r="35.70" stroke="#1e1e1e" stroke-width="1.1" fill="none"/>
<circle cx="309.50" cy="596.40" r="25.00" stroke="#1e1e1e" stroke-width="1.1" fill="none"/>
<circle cx="309.50" cy="596.40" r="21.40" stroke="#1e1e1e" stroke-width="1.1" fill="none"/>
<circle cx="309.50" cy="596.40" r="14.70" stroke="#1e1e1e" stroke-width="1.1" fill="none"/>
<circle cx="309.50" cy="596.40" r="10.30" stroke="#1e1e1e" stroke-width="1.8" fill="none"/>
<circle cx="309.50" cy="596.40" r="8.80" stroke="#1e1e1e" stroke-width="1.0" fill="none"/>
<circle cx="309.50" cy="596.40" r="6.00" stroke="#1e1e1e" stroke-width="1.0" fill="none"/>
<circle cx="309.50" cy="596.40" r="2.50" stroke="#1e1e1e" stroke-width="1.0" fill="none"/>
<line x1="309.50" y1="518.00" x2="309.50" y2="682.00" stroke="#1e1e1e" stroke-width="0.8" stroke-dasharray="9 2 2 2"/>
<line x1="247.00" y1="596.40" x2="362.00" y2="596.40" stroke="#1e1e1e" stroke-width="0.8" stroke-dasharray="9 2 2 2"/>
<line x1="261.60" y1="644.10" x2="288.90" y2="644.10" stroke="#1e1e1e" stroke-width="2.2"/>
<line x1="330.00" y1="644.10" x2="357.20" y2="644.10" stroke="#1e1e1e" stroke-width="2.2"/>
<line x1="288.90" y1="642.50" x2="330.00" y2="642.50" stroke="#1e1e1e" stroke-width="1.2"/>
<text x="598.10" y="471.00" font-size="12.94" textLength="15.06" lengthAdjust="spacingAndGlyphs" style="font-weight:bold;" fill="#1e1e1e">40</text>
<text x="639.12" y="471.00" font-size="12.94" textLength="14.55" lengthAdjust="spacingAndGlyphs" style="font-weight:bold;" fill="#1e1e1e">67</text>
<text x="690.45" y="471.00" font-size="12.94" textLength="13.69" lengthAdjust="spacingAndGlyphs" style="font-weight:bold;" fill="#1e1e1e">67</text>
<text x="731.81" y="471.00" font-size="12.94" textLength="14.11" lengthAdjust="spacingAndGlyphs" style="font-weight:bold;" fill="#1e1e1e">40</text>
<line x1="589.40" y1="473.80" x2="621.30" y2="473.80" stroke="#1e1e1e" stroke-width="0.9"/>
<path d="M589.40,473.80 L596.40,472.10 L596.40,475.50 Z" fill="#1e1e1e" stroke="none"/>
<path d="M621.30,473.80 L614.30,475.50 L614.30,472.10 Z" fill="#1e1e1e" stroke="none"/>
<line x1="621.30" y1="473.80" x2="672.60" y2="473.80" stroke="#1e1e1e" stroke-width="0.9"/>
<path d="M621.30,473.80 L628.30,472.10 L628.30,475.50 Z" fill="#1e1e1e" stroke="none"/>
<path d="M672.60,473.80 L665.60,475.50 L665.60,472.10 Z" fill="#1e1e1e" stroke="none"/>
<line x1="672.60" y1="473.80" x2="723.30" y2="473.80" stroke="#1e1e1e" stroke-width="0.9"/>
<path d="M672.60,473.80 L679.60,472.10 L679.60,475.50 Z" fill="#1e1e1e" stroke="none"/>
<path d="M723.30,473.80 L716.30,475.50 L716.30,472.10 Z" fill="#1e1e1e" stroke="none"/>
<line x1="723.30" y1="473.80" x2="755.70" y2="473.80" stroke="#1e1e1e" stroke-width="0.9"/>
<path d="M723.30,473.80 L730.30,472.10 L730.30,475.50 Z" fill="#1e1e1e" stroke="none"/>
<path d="M755.70,473.80 L748.70,475.50 L748.70,472.10 Z" fill="#1e1e1e" stroke="none"/>
<line x1="589.40" y1="471.00" x2="589.40" y2="590.00" stroke="#1e1e1e" stroke-width="1.0"/>
<line x1="621.30" y1="471.00" x2="621.30" y2="590.00" stroke="#1e1e1e" stroke-width="1.0"/>
<line x1="723.30" y1="471.00" x2="723.30" y2="590.00" stroke="#1e1e1e" stroke-width="1.0"/>
<line x1="755.70" y1="471.00" x2="755.70" y2="590.00" stroke="#1e1e1e" stroke-width="1.0"/>
<line x1="672.60" y1="471.00" x2="672.60" y2="490.00" stroke="#1e1e1e" stroke-width="1.0"/>
<line x1="646.00" y1="490.30" x2="699.00" y2="490.30" stroke="#1e1e1e" stroke-width="3.0"/>
<path d="M646.9,491.5 L646.9,499.2 L648,520.5 M698.5,491.5 L698.5,499.2 L697.5,520.5" stroke="#1e1e1e" stroke-width="1.6" fill="none" />
<line x1="647.00" y1="497.00" x2="698.00" y2="497.00" stroke="#1e1e1e" stroke-width="1.0"/>
<line x1="656.50" y1="497.50" x2="657.00" y2="520.50" stroke="#1e1e1e" stroke-width="1.0"/>
<line x1="689.60" y1="497.50" x2="689.00" y2="520.50" stroke="#1e1e1e" stroke-width="1.0"/>
<line x1="663.90" y1="515.40" x2="663.90" y2="521.30" stroke="#1e1e1e" stroke-width="1.5"/>
<line x1="669.80" y1="515.40" x2="669.80" y2="521.30" stroke="#1e1e1e" stroke-width="1.5"/>
<line x1="675.60" y1="515.40" x2="675.60" y2="521.30" stroke="#1e1e1e" stroke-width="1.5"/>
<line x1="681.50" y1="515.40" x2="681.50" y2="521.30" stroke="#1e1e1e" stroke-width="1.5"/>
<rect x="698.50" y="499.20" width="6.60" height="16.90" rx="0" stroke="#1e1e1e" stroke-width="1.2" fill="none"/>
<path d="M705,499.9 L716,499.9 Q719.1,499.9 719.1,503.5 L719.1,513.5 Q719.1,517.5 716,517.5 L705,517.5 Z" stroke="#1e1e1e" stroke-width="1.3" fill="none" />
<line x1="705.00" y1="508.70" x2="718.00" y2="508.70" stroke="#1e1e1e" stroke-width="1.0"/>
<line x1="709.00" y1="500.50" x2="709.00" y2="516.50" stroke="#1e1e1e" stroke-width="1.0"/>
<path d="M630.32,562.48 A43,43 0 0 1 648.24,521.28" stroke="#1e1e1e" stroke-width="2.6" fill="none" />
<path d="M697.56,521.28 A43,43 0 0 1 715.48,562.48" stroke="#1e1e1e" stroke-width="2.6" fill="none" />
<path d="M634.48,561.90 A38.8,38.8 0 0 1 644.07,530.54" stroke="#1e1e1e" stroke-width="1.4" fill="none" />
<path d="M701.73,530.54 A38.8,38.8 0 0 1 711.32,561.90" stroke="#1e1e1e" stroke-width="1.4" fill="none" />
<line x1="634.11" y1="555.82" x2="629.91" y2="555.75" stroke="#1e1e1e" stroke-width="2.4"/>
<line x1="711.69" y1="555.82" x2="715.89" y2="555.75" stroke="#1e1e1e" stroke-width="2.4"/>
<line x1="634.69" y1="549.76" x2="630.55" y2="549.03" stroke="#1e1e1e" stroke-width="2.4"/>
<line x1="711.11" y1="549.76" x2="715.25" y2="549.03" stroke="#1e1e1e" stroke-width="2.4"/>
<line x1="636.21" y1="543.87" x2="632.24" y2="542.50" stroke="#1e1e1e" stroke-width="2.4"/>
<line x1="709.59" y1="543.87" x2="713.56" y2="542.50" stroke="#1e1e1e" stroke-width="2.4"/>
<line x1="638.64" y1="538.28" x2="634.93" y2="536.31" stroke="#1e1e1e" stroke-width="2.4"/>
<line x1="707.16" y1="538.28" x2="710.87" y2="536.31" stroke="#1e1e1e" stroke-width="2.4"/>
<line x1="641.91" y1="533.15" x2="638.56" y2="530.62" stroke="#1e1e1e" stroke-width="2.4"/>
<line x1="703.89" y1="533.15" x2="707.24" y2="530.62" stroke="#1e1e1e" stroke-width="2.4"/>
<path d="M649.62,529.34 A37,37 0 0 1 695.18,529.34" stroke="#1e1e1e" stroke-width="1.0" fill="none" />
<path d="M649.65,533.23 A34,34 0 0 1 695.15,533.23" stroke="#1e1e1e" stroke-width="1.0" fill="none" />
<line x1="648.00" y1="520.50" x2="647.50" y2="526.50" stroke="#1e1e1e" stroke-width="2.0"/>
<line x1="697.50" y1="520.50" x2="698.00" y2="526.50" stroke="#1e1e1e" stroke-width="2.0"/>
<line x1="638.80" y1="533.30" x2="708.00" y2="533.30" stroke="#1e1e1e" stroke-width="1.0"/>
<circle cx="672.40" cy="558.10" r="19.50" stroke="#1e1e1e" stroke-width="1.4" fill="none"/>
<circle cx="672.40" cy="558.10" r="16.60" stroke="#1e1e1e" stroke-width="1.0" fill="none"/>
<circle cx="658.00" cy="541.90" r="4.10" stroke="#1e1e1e" stroke-width="1.3" fill="none"/>
<circle cx="658.00" cy="541.90" r="2.40" stroke="#1e1e1e" stroke-width="1.0" fill="none"/>
<circle cx="688.20" cy="541.90" r="4.10" stroke="#1e1e1e" stroke-width="1.3" fill="none"/>
<circle cx="688.20" cy="541.90" r="2.40" stroke="#1e1e1e" stroke-width="1.0" fill="none"/>
<circle cx="658.00" cy="572.10" r="4.10" stroke="#1e1e1e" stroke-width="1.3" fill="none"/>
<circle cx="658.00" cy="572.10" r="2.40" stroke="#1e1e1e" stroke-width="1.0" fill="none"/>
<circle cx="688.20" cy="572.10" r="4.10" stroke="#1e1e1e" stroke-width="1.3" fill="none"/>
<circle cx="688.20" cy="572.10" r="2.40" stroke="#1e1e1e" stroke-width="1.0" fill="none"/>
<path d="M661,538.5 Q672.4,534.5 685,538.5 M661,575.5 Q672.4,579.5 685,575.5 M654,544.5 Q652,558.1 654,569.5 M692,544.5 Q694,558.1 692,569.5" stroke="#1e1e1e" stroke-width="1.0" fill="none" />
<path d="M658,576.5 Q653,581.5 657,585.5 L659,586.5 M688.2,576.5 Q693,581.5 689,585.5 L687,586.5" stroke="#1e1e1e" stroke-width="1.3" fill="none" />
<path d="M657,586.5 Q654,601.5 656,616.5 M689,586.5 Q692,601.5 690,616.5" stroke="#1e1e1e" stroke-width="1.0" fill="none" />
<rect x="655.00" y="607.50" width="4.00" height="10.00" rx="0" stroke="#1e1e1e" stroke-width="1.0" fill="none"/>
<rect x="687.50" y="607.50" width="4.00" height="10.00" rx="0" stroke="#1e1e1e" stroke-width="1.0" fill="none"/>
<line x1="638.80" y1="533.30" x2="638.80" y2="643.70" stroke="#1e1e1e" stroke-width="2.0"/>
<line x1="650.60" y1="533.30" x2="650.60" y2="643.70" stroke="#1e1e1e" stroke-width="1.0"/>
<line x1="653.60" y1="533.30" x2="653.60" y2="643.70" stroke="#1e1e1e" stroke-width="1.0"/>
<rect x="641.40" y="536.00" width="6.00" height="6.00" rx="1" stroke="#1e1e1e" stroke-width="1.2" fill="none"/>
<circle cx="644.40" cy="547.00" r="2.40" stroke="#1e1e1e" stroke-width="1.0" fill="none"/>
<line x1="640.90" y1="547.00" x2="647.90" y2="547.00" stroke="#1e1e1e" stroke-width="0.8"/>
<line x1="644.40" y1="543.50" x2="644.40" y2="550.50" stroke="#1e1e1e" stroke-width="0.8"/>
<rect x="641.40" y="552.20" width="6.00" height="6.60" rx="1.5" stroke="#1e1e1e" stroke-width="1.2" fill="none"/>
<line x1="638.80" y1="559.50" x2="650.60" y2="559.50" stroke="#1e1e1e" stroke-width="1.0"/>
<line x1="638.80" y1="616.50" x2="650.60" y2="616.50" stroke="#1e1e1e" stroke-width="1.0"/>
<rect x="641.40" y="618.60" width="6.00" height="6.70" rx="1" stroke="#1e1e1e" stroke-width="1.2" fill="none"/>
<circle cx="644.40" cy="630.40" r="2.40" stroke="#1e1e1e" stroke-width="1.0" fill="none"/>
<line x1="640.90" y1="630.40" x2="647.90" y2="630.40" stroke="#1e1e1e" stroke-width="0.8"/>
<line x1="644.40" y1="627.00" x2="644.40" y2="634.00" stroke="#1e1e1e" stroke-width="0.8"/>
<rect x="641.40" y="634.10" width="6.00" height="7.40" rx="1.5" stroke="#1e1e1e" stroke-width="1.2" fill="none"/>
<line x1="696.30" y1="533.30" x2="696.30" y2="643.70" stroke="#1e1e1e" stroke-width="2.0"/>
<line x1="708.10" y1="533.30" x2="708.10" y2="643.70" stroke="#1e1e1e" stroke-width="1.0"/>
<line x1="693.30" y1="533.30" x2="693.30" y2="643.70" stroke="#1e1e1e" stroke-width="1.0"/>
<rect x="698.90" y="536.00" width="6.00" height="6.00" rx="1" stroke="#1e1e1e" stroke-width="1.2" fill="none"/>
<circle cx="701.90" cy="547.00" r="2.40" stroke="#1e1e1e" stroke-width="1.0" fill="none"/>
<line x1="698.40" y1="547.00" x2="705.40" y2="547.00" stroke="#1e1e1e" stroke-width="0.8"/>
<line x1="701.90" y1="543.50" x2="701.90" y2="550.50" stroke="#1e1e1e" stroke-width="0.8"/>
<rect x="698.90" y="552.20" width="6.00" height="6.60" rx="1.5" stroke="#1e1e1e" stroke-width="1.2" fill="none"/>
<line x1="696.30" y1="559.50" x2="708.10" y2="559.50" stroke="#1e1e1e" stroke-width="1.0"/>
<line x1="696.30" y1="616.50" x2="708.10" y2="616.50" stroke="#1e1e1e" stroke-width="1.0"/>
<rect x="698.90" y="618.60" width="6.00" height="6.70" rx="1" stroke="#1e1e1e" stroke-width="1.2" fill="none"/>
<circle cx="701.90" cy="630.40" r="2.40" stroke="#1e1e1e" stroke-width="1.0" fill="none"/>
<line x1="698.40" y1="630.40" x2="705.40" y2="630.40" stroke="#1e1e1e" stroke-width="0.8"/>
<line x1="701.90" y1="627.00" x2="701.90" y2="634.00" stroke="#1e1e1e" stroke-width="0.8"/>
<rect x="698.90" y="634.10" width="6.00" height="7.40" rx="1.5" stroke="#1e1e1e" stroke-width="1.2" fill="none"/>
<line x1="638.80" y1="643.70" x2="708.00" y2="643.70" stroke="#1e1e1e" stroke-width="1.6"/>
<line x1="660.50" y1="593.50" x2="660.50" y2="640.70" stroke="#1e1e1e" stroke-width="2.2"/>
<line x1="676.00" y1="593.50" x2="676.00" y2="640.70" stroke="#1e1e1e" stroke-width="2.2"/>
<rect x="667.10" y="593.50" width="2.40" height="47.00" rx="0" stroke="#1e1e1e" stroke-width="1.0" fill="none"/>
<rect x="681.80" y="593.50" width="2.40" height="47.00" rx="0" stroke="#1e1e1e" stroke-width="1.0" fill="none"/>
<path d="M653.6,643.5 L657,637.5 L664,637.5 L666,643.5 M680,643.5 L682,637.5 L689,637.5 L692.6,643.5" stroke="#1e1e1e" stroke-width="1.2" fill="none" />
<path d="M638.6,561.7 Q650,588.5 638.6,615.9 Q645,588.5 638.6,561.7 M708.2,561.7 Q696.8,588.5 708.2,615.9 Q701.8,588.5 708.2,561.7" stroke="#555" stroke-width="0.9" fill="none" />
<rect x="628.00" y="556.00" width="7.00" height="6.00" rx="0" stroke="#1e1e1e" stroke-width="1.2" fill="#1e1e1e"/>
<rect x="710.00" y="556.00" width="7.00" height="6.00" rx="0" stroke="#1e1e1e" stroke-width="1.2" fill="#1e1e1e"/>
<line x1="672.40" y1="490.00" x2="672.40" y2="645.00" stroke="#1e1e1e" stroke-width="0.8" stroke-dasharray="9 2 2 2"/>
<path d="M620.2,561.6 L620.2,583 Q617,587 620.2,590 Q623.5,596.4 620.2,603 Q617,606 620.2,609 L620.2,636.2" stroke="#1e1e1e" stroke-width="2.5" fill="none" />
<path d="M621,549.8 L628.1,549.8 L628.1,642.1 L621,642.1 L621,636" stroke="#1e1e1e" stroke-width="1.8" fill="none" />
<path d="M639,560 Q645,600 639,640" stroke="#1e1e1e" stroke-width="1.0" fill="none" />
<path d="M724.7,561.6 L724.7,583 Q728,587 724.7,590 Q721.5,596.4 724.7,603 Q728,606 724.7,609 L724.7,632" stroke="#1e1e1e" stroke-width="2.5" fill="none" />
<path d="M724,549.8 L716.9,549.8 L716.9,642.1 L724,642.1 L724,632" stroke="#1e1e1e" stroke-width="1.8" fill="none" />
<path d="M706,560 Q700,600 706,640" stroke="#1e1e1e" stroke-width="1.0" fill="none" />
<rect x="588.80" y="589.10" width="33.40" height="15.70" rx="0" stroke="#1e1e1e" stroke-width="1.8" fill="none"/>
<rect x="723.30" y="588.70" width="31.70" height="16.20" rx="0" stroke="#1e1e1e" stroke-width="1.8" fill="none"/>
<path d="M594,596.4 L597,593.5 L613,593.5 L616,596.4 L613,599.3 L597,599.3 Z" stroke="#1e1e1e" stroke-width="1.0" fill="none" />
<line x1="596.00" y1="592.50" x2="596.00" y2="600.30" stroke="#1e1e1e" stroke-width="0.9"/>
<line x1="614.00" y1="592.50" x2="614.00" y2="600.30" stroke="#1e1e1e" stroke-width="0.9"/>
<path d="M728,596.4 L731,593.5 L747,593.5 L750,596.4 L747,599.3 L731,599.3 Z" stroke="#1e1e1e" stroke-width="1.0" fill="none" />
<line x1="730.00" y1="592.50" x2="730.00" y2="600.30" stroke="#1e1e1e" stroke-width="0.9"/>
<line x1="748.00" y1="592.50" x2="748.00" y2="600.30" stroke="#1e1e1e" stroke-width="0.9"/>
<line x1="585.00" y1="596.40" x2="760.00" y2="596.40" stroke="#1e1e1e" stroke-width="0.8" stroke-dasharray="9 2 2 2"/>
<line x1="572.40" y1="547.00" x2="572.40" y2="630.20" stroke="#1e1e1e" stroke-width="0.9"/>
<path d="M572.40,547.00 L574.10,554.00 L570.70,554.00 Z" fill="#1e1e1e" stroke="none"/>
<path d="M572.40,630.20 L570.70,623.20 L574.10,623.20 Z" fill="#1e1e1e" stroke="none"/>
<rect x="564.40" y="582.70" width="16.20" height="11.80" fill="#fff"/>
<text x="565.46" y="593.00" font-size="12.79" textLength="14.16" lengthAdjust="spacingAndGlyphs" style="font-weight:bold;" fill="#1e1e1e">90</text>
<line x1="570.00" y1="546.50" x2="640.00" y2="546.50" stroke="#1e1e1e" stroke-width="0.9"/>
<line x1="570.00" y1="630.70" x2="640.00" y2="630.70" stroke="#1e1e1e" stroke-width="0.9"/>
<line x1="755.00" y1="596.40" x2="800.00" y2="596.40" stroke="#1e1e1e" stroke-width="0.9"/>
<text x="791.32" y="575.30" font-size="11.34" textLength="13.83" lengthAdjust="spacingAndGlyphs" style="font-weight:bold;" fill="#1e1e1e">56</text>
<line x1="798.10" y1="546.30" x2="798.10" y2="565.00" stroke="#1e1e1e" stroke-width="0.9"/>
<line x1="798.10" y1="578.00" x2="798.10" y2="596.40" stroke="#1e1e1e" stroke-width="0.9"/>
<path d="M798.10,546.30 L799.80,553.30 L796.40,553.30 Z" fill="#1e1e1e" stroke="none"/>
<path d="M798.10,596.40 L796.40,589.40 L799.80,589.40 Z" fill="#1e1e1e" stroke="none"/>
<line x1="712.00" y1="546.30" x2="800.00" y2="546.30" stroke="#1e1e1e" stroke-width="0.9"/>
<text x="774.32" y="580.90" font-size="12.21" textLength="13.38" lengthAdjust="spacingAndGlyphs" style="font-weight:bold;" fill="#1e1e1e">40</text>
<line x1="780.70" y1="557.20" x2="780.70" y2="570.00" stroke="#1e1e1e" stroke-width="0.9"/>
<line x1="780.70" y1="583.00" x2="780.70" y2="596.40" stroke="#1e1e1e" stroke-width="0.9"/>
<path d="M780.70,557.20 L782.40,564.20 L779.00,564.20 Z" fill="#1e1e1e" stroke="none"/>
<path d="M780.70,596.40 L779.00,589.40 L782.40,589.40 Z" fill="#1e1e1e" stroke="none"/>
<line x1="712.00" y1="557.20" x2="783.00" y2="557.20" stroke="#1e1e1e" stroke-width="0.9"/>
<text x="760.91" y="613.40" font-size="10.32" textLength="22.58" lengthAdjust="spacingAndGlyphs" style="font-weight:bold;" fill="#1e1e1e">Ø60</text>
<line x1="772.20" y1="560.90" x2="772.20" y2="604.00" stroke="#1e1e1e" stroke-width="0.9"/>
<line x1="772.20" y1="616.00" x2="772.20" y2="632.40" stroke="#1e1e1e" stroke-width="0.9"/>
<path d="M772.20,560.90 L773.90,567.90 L770.50,567.90 Z" fill="#1e1e1e" stroke="none"/>
<path d="M772.20,632.40 L770.50,625.40 L773.90,625.40 Z" fill="#1e1e1e" stroke="none"/>
<line x1="725.00" y1="560.90" x2="774.00" y2="560.90" stroke="#1e1e1e" stroke-width="0.9"/>
<line x1="725.00" y1="632.40" x2="774.00" y2="632.40" stroke="#1e1e1e" stroke-width="0.9"/>
<text x="739.80" y="621.60" font-size="11.48" textLength="16.23" lengthAdjust="spacingAndGlyphs" style="font-weight:bold;" fill="#1e1e1e">2.5</text>
<line x1="710.60" y1="624.40" x2="758.60" y2="624.40" stroke="#1e1e1e" stroke-width="0.9"/>
<path d="M716.90,624.40 L710.90,625.90 L710.90,622.90 Z" fill="#1e1e1e" stroke="none"/>
<path d="M724.70,624.40 L730.70,622.90 L730.70,625.90 Z" fill="#1e1e1e" stroke="none"/>
<text x="737.59" y="648.70" font-size="11.34" textLength="6.64" lengthAdjust="spacingAndGlyphs" style="font-weight:bold;" fill="#1e1e1e">7</text>
<line x1="704.20" y1="650.00" x2="745.90" y2="650.00" stroke="#1e1e1e" stroke-width="0.9"/>
<path d="M716.60,650.00 L710.60,651.50 L710.60,648.50 Z" fill="#1e1e1e" stroke="none"/>
<path d="M723.30,650.00 L729.30,648.50 L729.30,651.50 Z" fill="#1e1e1e" stroke="none"/>
<line x1="716.60" y1="642.00" x2="716.60" y2="652.00" stroke="#1e1e1e" stroke-width="0.9"/>
<line x1="723.30" y1="632.00" x2="723.30" y2="652.00" stroke="#1e1e1e" stroke-width="0.9"/>
<line x1="706.30" y1="644.00" x2="706.30" y2="670.00" stroke="#1e1e1e" stroke-width="0.9"/>
<text x="591.32" y="653.40" font-size="12.94" textLength="25.51" lengthAdjust="spacingAndGlyphs" style="font-weight:bold;" fill="#1e1e1e">Ø6.5</text>
<line x1="591.00" y1="655.40" x2="622.00" y2="655.40" stroke="#1e1e1e" stroke-width="1.0"/>
<line x1="622.00" y1="655.40" x2="641.00" y2="633.60" stroke="#1e1e1e" stroke-width="1.0"/>
<text x="665.56" y="659.30" font-size="12.94" textLength="13.33" lengthAdjust="spacingAndGlyphs" style="font-weight:bold;" fill="#1e1e1e">60</text>
<line x1="643.90" y1="661.30" x2="701.30" y2="661.30" stroke="#1e1e1e" stroke-width="0.9"/>
<path d="M643.90,661.30 L650.90,659.60 L650.90,663.00 Z" fill="#1e1e1e" stroke="none"/>
<path d="M701.30,661.30 L694.30,663.00 L694.30,659.60 Z" fill="#1e1e1e" stroke="none"/>
<line x1="643.90" y1="644.00" x2="643.90" y2="663.00" stroke="#1e1e1e" stroke-width="0.9"/>
<line x1="701.30" y1="644.00" x2="701.30" y2="663.00" stroke="#1e1e1e" stroke-width="0.9"/>
<text x="665.48" y="677.80" font-size="12.79" textLength="13.41" lengthAdjust="spacingAndGlyphs" style="font-weight:bold;" fill="#1e1e1e">70</text>
<line x1="638.00" y1="679.00" x2="707.20" y2="679.00" stroke="#1e1e1e" stroke-width="0.9"/>
<path d="M638.00,679.00 L645.00,677.30 L645.00,680.70 Z" fill="#1e1e1e" stroke="none"/>
<path d="M707.20,679.00 L700.20,680.70 L700.20,677.30 Z" fill="#1e1e1e" stroke="none"/>
<line x1="638.00" y1="644.00" x2="638.00" y2="681.00" stroke="#1e1e1e" stroke-width="0.9"/>
<line x1="707.20" y1="644.00" x2="707.20" y2="681.00" stroke="#1e1e1e" stroke-width="0.9"/>
<text x="267.27" y="719.20" font-size="12.79" textLength="23.97" lengthAdjust="spacingAndGlyphs" style="font-weight:bold;" fill="#1e1e1e">20.5</text>
<line x1="265.50" y1="721.00" x2="318.50" y2="721.00" stroke="#1e1e1e" stroke-width="1.0"/>
<path d="M300.50,721.00 L306.50,719.50 L306.50,722.50 Z" fill="#1e1e1e" stroke="none"/>
<path d="M317.50,721.00 L311.50,722.50 L311.50,719.50 Z" fill="#1e1e1e" stroke="none"/>
<line x1="300.50" y1="721.00" x2="300.50" y2="735.00" stroke="#1e1e1e" stroke-width="0.9"/>
<line x1="317.50" y1="721.00" x2="317.50" y2="737.00" stroke="#1e1e1e" stroke-width="0.9"/>
<circle cx="309.00" cy="737.60" r="8.20" stroke="#1e1e1e" stroke-width="2.2" fill="none"/>
<line x1="309.00" y1="729.00" x2="309.00" y2="746.00" stroke="#1e1e1e" stroke-width="0.8"/>
<line x1="301.00" y1="737.60" x2="317.00" y2="737.60" stroke="#1e1e1e" stroke-width="0.8"/>
<circle cx="309.00" cy="737.60" r="2.00" stroke="#1e1e1e" stroke-width="0.8" fill="none"/>
<line x1="293.60" y1="721.00" x2="293.60" y2="758.30" stroke="#1e1e1e" stroke-width="1.0"/>
<path d="M293.60,734.50 L292.10,728.50 L295.10,728.50 Z" fill="#1e1e1e" stroke="none"/>
<path d="M293.60,740.00 L295.10,746.00 L292.10,746.00 Z" fill="#1e1e1e" stroke="none"/>
<rect x="293.60" y="734.50" width="7.00" height="5.50" rx="0" stroke="#1e1e1e" stroke-width="0.9" fill="none"/>
<text x="284.90" y="756.80" font-size="11.34" textLength="7.59" lengthAdjust="spacingAndGlyphs" style="font-weight:bold;" fill="#1e1e1e">6</text>
<line x1="285.00" y1="758.30" x2="293.60" y2="758.30" stroke="#1e1e1e" stroke-width="1.0"/>
<line x1="316.00" y1="744.00" x2="324.00" y2="758.50" stroke="#1e1e1e" stroke-width="1.0"/>
<line x1="324.00" y1="758.50" x2="345.00" y2="758.50" stroke="#1e1e1e" stroke-width="1.0"/>
<text x="328.06" y="756.80" font-size="11.34" textLength="17.39" lengthAdjust="spacingAndGlyphs" style="font-weight:bold;" fill="#1e1e1e">M6</text>
<text x="392.15" y="699.70" font-size="10.47" textLength="20.30" lengthAdjust="spacingAndGlyphs" style="font-weight:bold;" fill="#1e1e1e">-0.01</text>
<text x="392.15" y="706.00" font-size="9.45" textLength="20.41" lengthAdjust="spacingAndGlyphs" style="font-weight:bold;" fill="#1e1e1e">-0.02</text>
<text x="381.85" y="714.80" font-size="11.34" textLength="13.21" lengthAdjust="spacingAndGlyphs" style="font-weight:bold;" fill="#1e1e1e">18</text>
<line x1="380.40" y1="717.70" x2="394.70" y2="717.70" stroke="#1e1e1e" stroke-width="1.0"/>
<line x1="380.40" y1="717.70" x2="380.40" y2="756.80" stroke="#1e1e1e" stroke-width="1.0"/>
<path d="M380.40,729.80 L378.90,723.80 L381.90,723.80 Z" fill="#1e1e1e" stroke="none"/>
<path d="M380.40,744.20 L381.90,750.20 L378.90,750.20 Z" fill="#1e1e1e" stroke="none"/>
<line x1="380.40" y1="729.80" x2="388.00" y2="729.80" stroke="#1e1e1e" stroke-width="0.9"/>
<line x1="380.40" y1="744.20" x2="388.00" y2="744.20" stroke="#1e1e1e" stroke-width="0.9"/>
<rect x="388.10" y="729.80" width="32.00" height="14.40" rx="0" stroke="#1e1e1e" stroke-width="1.6" fill="none"/>
<line x1="388.60" y1="729.80" x2="388.60" y2="744.20" stroke="#1e1e1e" stroke-width="2.6"/>
<line x1="420.10" y1="729.80" x2="420.10" y2="744.20" stroke="#1e1e1e" stroke-width="2.2"/>
<line x1="420.10" y1="729.80" x2="433.00" y2="729.80" stroke="#1e1e1e" stroke-width="1.3"/>
<line x1="420.10" y1="744.20" x2="433.00" y2="744.20" stroke="#1e1e1e" stroke-width="1.3"/>
<path d="M392,737 L395,734.5 L414,734.5 L417,737 L414,739.5 L395,739.5 Z" stroke="#1e1e1e" stroke-width="1.0" fill="none" />
<line x1="382.00" y1="737.00" x2="562.00" y2="737.00" stroke="#1e1e1e" stroke-width="0.8" stroke-dasharray="9 2 2 2"/>
<path d="M432.1,723.6 L450.9,723.6 L450.9,720.8 L490.7,720.8 L490.7,723.6 L509.4,723.6 L509.4,729.2 L432.1,729.2 Z" stroke="#1e1e1e" stroke-width="1.3" fill="url(#hat)" />
<path d="M432.1,752.4 L450.9,752.4 L450.9,753.9 L490.7,753.9 L490.7,752.4 L509.4,752.4 L509.4,745.7 L432.1,745.7 Z" stroke="#1e1e1e" stroke-width="1.3" fill="url(#hat)" />
<line x1="432.10" y1="729.20" x2="432.10" y2="745.70" stroke="#1e1e1e" stroke-width="1.3"/>
<line x1="509.40" y1="729.20" x2="509.40" y2="745.70" stroke="#1e1e1e" stroke-width="1.3"/>
<line x1="432.30" y1="724.00" x2="432.30" y2="752.00" stroke="#1e1e1e" stroke-width="2.6"/>
<path d="M466,720.8 L470.8,718.5 L475,720.8 M466,753.9 L470.8,756 L475,753.9" stroke="#1e1e1e" stroke-width="1.2" fill="none" />
<path d="M435.5,737 L438,734.5 L459.5,734.5 L462,737 L459.5,739.5 L438,739.5 Z" stroke="#1e1e1e" stroke-width="1.0" fill="none" />
<path d="M479.6,737 L482,734.5 L503.5,734.5 L506,737 L503.5,739.5 L482,739.5 Z" stroke="#1e1e1e" stroke-width="1.0" fill="none" />
<line x1="455.30" y1="729.50" x2="455.30" y2="745.50" stroke="#1e1e1e" stroke-width="1.0"/>
<line x1="486.30" y1="729.50" x2="486.30" y2="745.50" stroke="#1e1e1e" stroke-width="1.0"/>
<rect x="509.40" y="727.00" width="13.30" height="21.00" rx="0" stroke="#1e1e1e" stroke-width="1.3" fill="none"/>
<rect x="522.70" y="729.80" width="30.90" height="14.40" rx="0" stroke="#1e1e1e" stroke-width="1.6" fill="none"/>
<line x1="553.30" y1="729.80" x2="553.30" y2="744.20" stroke="#1e1e1e" stroke-width="2.4"/>
<path d="M526,737 L528.5,734.5 L549,734.5 L551.4,737 L549,739.5 L528.5,739.5 Z" stroke="#1e1e1e" stroke-width="1.0" fill="none" />
<text x="575.35" y="699.70" font-size="10.47" textLength="20.30" lengthAdjust="spacingAndGlyphs" style="font-weight:bold;" fill="#1e1e1e">-0.01</text>
<text x="575.35" y="706.00" font-size="9.45" textLength="20.41" lengthAdjust="spacingAndGlyphs" style="font-weight:bold;" fill="#1e1e1e">-0.02</text>
<text x="563.88" y="714.80" font-size="11.34" textLength="14.41" lengthAdjust="spacingAndGlyphs" style="font-weight:bold;" fill="#1e1e1e">18</text>
<line x1="562.40" y1="717.70" x2="578.00" y2="717.70" stroke="#1e1e1e" stroke-width="1.0"/>
<line x1="562.40" y1="717.70" x2="562.40" y2="756.80" stroke="#1e1e1e" stroke-width="1.0"/>
<path d="M562.40,729.80 L560.90,723.80 L563.90,723.80 Z" fill="#1e1e1e" stroke="none"/>
<path d="M562.40,744.20 L563.90,750.20 L560.90,750.20 Z" fill="#1e1e1e" stroke="none"/>
<line x1="553.60" y1="729.80" x2="562.40" y2="729.80" stroke="#1e1e1e" stroke-width="0.9"/>
<line x1="553.60" y1="744.20" x2="562.40" y2="744.20" stroke="#1e1e1e" stroke-width="0.9"/>
<text x="397.83" y="760.10" font-size="10.32" textLength="12.85" lengthAdjust="spacingAndGlyphs" style="font-weight:bold;" fill="#1e1e1e">40</text>
<line x1="388.10" y1="762.30" x2="420.10" y2="762.30" stroke="#1e1e1e" stroke-width="0.9"/>
<path d="M388.10,762.30 L395.10,760.60 L395.10,764.00 Z" fill="#1e1e1e" stroke="none"/>
<path d="M420.10,762.30 L413.10,764.00 L413.10,760.60 Z" fill="#1e1e1e" stroke="none"/>
<text x="404.23" y="776.00" font-size="10.90" textLength="14.12" lengthAdjust="spacingAndGlyphs" style="font-weight:bold;" fill="#1e1e1e">66</text>
<line x1="388.10" y1="778.90" x2="433.40" y2="778.90" stroke="#1e1e1e" stroke-width="0.9"/>
<path d="M388.10,778.90 L395.10,777.20 L395.10,780.60 Z" fill="#1e1e1e" stroke="none"/>
<path d="M433.40,778.90 L426.40,780.60 L426.40,777.20 Z" fill="#1e1e1e" stroke="none"/>
<text x="464.92" y="776.00" font-size="10.90" textLength="13.47" lengthAdjust="spacingAndGlyphs" style="font-weight:bold;" fill="#1e1e1e">82</text>
<line x1="432.10" y1="778.90" x2="509.40" y2="778.90" stroke="#1e1e1e" stroke-width="0.9"/>
<path d="M432.10,778.90 L439.10,777.20 L439.10,780.60 Z" fill="#1e1e1e" stroke="none"/>
<path d="M509.40,778.90 L502.40,780.60 L502.40,777.20 Z" fill="#1e1e1e" stroke="none"/>
<text x="525.16" y="776.00" font-size="10.90" textLength="13.48" lengthAdjust="spacingAndGlyphs" style="font-weight:bold;" fill="#1e1e1e">66</text>
<line x1="509.40" y1="778.90" x2="553.60" y2="778.90" stroke="#1e1e1e" stroke-width="0.9"/>
<path d="M509.40,778.90 L516.40,777.20 L516.40,780.60 Z" fill="#1e1e1e" stroke="none"/>
<path d="M553.60,778.90 L546.60,780.60 L546.60,777.20 Z" fill="#1e1e1e" stroke="none"/>
<text x="532.02" y="760.10" font-size="10.32" textLength="13.27" lengthAdjust="spacingAndGlyphs" style="font-weight:bold;" fill="#1e1e1e">40</text>
<line x1="522.70" y1="762.30" x2="553.60" y2="762.30" stroke="#1e1e1e" stroke-width="0.9"/>
<path d="M522.70,762.30 L529.70,760.60 L529.70,764.00 Z" fill="#1e1e1e" stroke="none"/>
<path d="M553.60,762.30 L546.60,764.00 L546.60,760.60 Z" fill="#1e1e1e" stroke="none"/>
<line x1="388.10" y1="744.00" x2="388.10" y2="781.00" stroke="#1e1e1e" stroke-width="0.9"/>
<line x1="420.10" y1="744.00" x2="420.10" y2="764.00" stroke="#1e1e1e" stroke-width="0.9"/>
<line x1="433.40" y1="752.00" x2="433.40" y2="781.00" stroke="#1e1e1e" stroke-width="0.9"/>
<line x1="509.40" y1="752.00" x2="509.40" y2="781.00" stroke="#1e1e1e" stroke-width="0.9"/>
<line x1="522.70" y1="748.00" x2="522.70" y2="764.00" stroke="#1e1e1e" stroke-width="0.9"/>
<line x1="553.60" y1="744.00" x2="553.60" y2="781.00" stroke="#1e1e1e" stroke-width="0.9"/>
<rect x="265.5" y="851.5" width="141.5" height="24.4" fill="#d9d9d9"/>
<rect x="265.5" y="875.9" width="55.9" height="103" fill="#d9d9d9"/>
<line x1="265.50" y1="875.90" x2="407.50" y2="875.90" stroke="#1e1e1e" stroke-width="1.3"/>
<line x1="265.50" y1="902.30" x2="407.50" y2="902.30" stroke="#1e1e1e" stroke-width="1.3"/>
<line x1="265.50" y1="927.60" x2="407.50" y2="927.60" stroke="#1e1e1e" stroke-width="1.3"/>
<line x1="265.50" y1="953.40" x2="407.50" y2="953.40" stroke="#1e1e1e" stroke-width="1.3"/>
<line x1="321.30" y1="851.00" x2="321.30" y2="979.00" stroke="#1e1e1e" stroke-width="1.3"/>
<line x1="364.50" y1="851.00" x2="364.50" y2="979.00" stroke="#1e1e1e" stroke-width="1.3"/>
<line x1="265.60" y1="850.30" x2="265.60" y2="980.00" stroke="#1e1e1e" stroke-width="2.4"/>
<line x1="407.30" y1="850.30" x2="407.30" y2="980.00" stroke="#1e1e1e" stroke-width="2.2"/>
<line x1="264.50" y1="851.20" x2="408.50" y2="851.20" stroke="#1e1e1e" stroke-width="2.0"/>
<line x1="264.50" y1="979.20" x2="408.50" y2="979.20" stroke="#1e1e1e" stroke-width="2.6"/>
<text x="269.88" y="868.00" font-size="13.08" textLength="46.08" lengthAdjust="spacingAndGlyphs" style="font-weight:bold;" fill="#1e1e1e">IEC B14</text>
<text x="335.02" y="868.00" font-size="13.08" textLength="14.66" lengthAdjust="spacingAndGlyphs" style="font-weight:bold;" fill="#1e1e1e">63</text>
<text x="378.18" y="868.00" font-size="13.08" textLength="13.56" lengthAdjust="spacingAndGlyphs" style="font-weight:bold;" fill="#1e1e1e">71</text>
<text x="289.45" y="894.00" font-size="11.72" textLength="6.73" lengthAdjust="spacingAndGlyphs" style="font-weight:bold;" fill="#1e1e1e">k</text>
<text x="332.03" y="894.00" font-size="11.63" textLength="20.78" lengthAdjust="spacingAndGlyphs" style="stroke:#1e1e1e;stroke-width:0.35px;" fill="#1e1e1e">321</text>
<text x="374.63" y="894.00" font-size="11.63" textLength="20.80" lengthAdjust="spacingAndGlyphs" style="stroke:#1e1e1e;stroke-width:0.35px;" fill="#1e1e1e">347</text>
<text x="286.77" y="919.90" font-size="11.72" textLength="13.15" lengthAdjust="spacingAndGlyphs" style="font-weight:bold;" fill="#1e1e1e">k1</text>
<text x="332.86" y="919.90" font-size="11.63" textLength="19.49" lengthAdjust="spacingAndGlyphs" style="stroke:#1e1e1e;stroke-width:0.35px;" fill="#1e1e1e">374</text>
<text x="375.32" y="919.90" font-size="11.63" textLength="20.60" lengthAdjust="spacingAndGlyphs" style="stroke:#1e1e1e;stroke-width:0.35px;" fill="#1e1e1e">467</text>
<text x="289.53" y="945.10" font-size="12.62" textLength="8.10" lengthAdjust="spacingAndGlyphs" style="font-weight:bold;" fill="#1e1e1e">n</text>
<text x="332.71" y="945.10" font-size="12.06" textLength="19.57" lengthAdjust="spacingAndGlyphs" style="stroke:#1e1e1e;stroke-width:0.35px;" fill="#1e1e1e">121</text>
<text x="375.37" y="945.10" font-size="12.06" textLength="20.47" lengthAdjust="spacingAndGlyphs" style="stroke:#1e1e1e;stroke-width:0.35px;" fill="#1e1e1e">138</text>
<text x="286.44" y="970.90" font-size="12.06" textLength="13.48" lengthAdjust="spacingAndGlyphs" style="font-weight:bold;" fill="#1e1e1e">n1</text>
<text x="335.80" y="970.90" font-size="12.06" textLength="14.13" lengthAdjust="spacingAndGlyphs" style="stroke:#1e1e1e;stroke-width:0.35px;" fill="#1e1e1e">97</text>
<text x="375.37" y="970.90" font-size="12.06" textLength="20.41" lengthAdjust="spacingAndGlyphs" style="stroke:#1e1e1e;stroke-width:0.35px;" fill="#1e1e1e">110</text>
<text x="440.39" y="857.80" font-size="11.19" textLength="113.01" lengthAdjust="spacingAndGlyphs" style="font-weight:bold;" fill="#1e1e1e" xml:space="preserve">Klemens Pozisyonları </text>
<text x="553.40" y="857.80" font-size="11.19" textLength="5.92" lengthAdjust="spacingAndGlyphs" style="stroke:#1e1e1e;stroke-width:0.35px;" fill="#1e1e1e" xml:space="preserve">/ </text>
<text x="559.31" y="857.80" font-size="11.19" textLength="108.87" lengthAdjust="spacingAndGlyphs" style="font-style:italic;stroke:#1e1e1e;stroke-width:0.35px;" fill="#1e1e1e" xml:space="preserve">Terminal Box Positions</text>
<text x="668.18" y="857.80" font-size="11.19" textLength="85.21" lengthAdjust="spacingAndGlyphs" style="stroke:#1e1e1e;stroke-width:0.35px;" fill="#1e1e1e" xml:space="preserve"> / Klemmenkasten</text>
<circle cx="516.00" cy="868.30" r="0.60" stroke="#1e1e1e" stroke-width="0" fill="#1e1e1e"/>
<path d="M573.6,893 L573.6,886 Q573.6,882.5 576,882.5 L592.5,882.5 Q594.7,882.5 594.7,886 L594.7,893" stroke="#1e1e1e" stroke-width="1.6" fill="none" />
<line x1="574.00" y1="882.80" x2="594.50" y2="882.80" stroke="#1e1e1e" stroke-width="2.6"/>
<line x1="574.00" y1="885.60" x2="594.50" y2="885.60" stroke="#1e1e1e" stroke-width="1.0"/>
<line x1="577.50" y1="885.60" x2="577.50" y2="893.00" stroke="#1e1e1e" stroke-width="1.0"/>
<line x1="590.40" y1="885.60" x2="590.40" y2="893.00" stroke="#1e1e1e" stroke-width="1.0"/>
<path d="M568.5,896.5 L561,896.5 Q558.5,896.5 558.5,899 L558.5,915.5 Q558.5,918 561,918 L568.5,918" stroke="#1e1e1e" stroke-width="1.6" fill="none" />
<line x1="558.60" y1="897.00" x2="558.60" y2="917.50" stroke="#1e1e1e" stroke-width="2.6"/>
<line x1="561.30" y1="898.60" x2="568.00" y2="898.60" stroke="#1e1e1e" stroke-width="1.0"/>
<line x1="561.30" y1="915.40" x2="568.00" y2="915.40" stroke="#1e1e1e" stroke-width="1.0"/>
<line x1="561.30" y1="897.00" x2="561.30" y2="918.00" stroke="#1e1e1e" stroke-width="1.0"/>
<path d="M599.5,896.5 L607,896.5 Q609.3,896.5 609.3,899 L609.3,915.5 Q609.3,918 607,918 L599.5,918" stroke="#1e1e1e" stroke-width="1.6" fill="none" />
<line x1="609.20" y1="897.00" x2="609.20" y2="917.50" stroke="#1e1e1e" stroke-width="2.6"/>
<line x1="600.00" y1="898.60" x2="606.60" y2="898.60" stroke="#1e1e1e" stroke-width="1.0"/>
<line x1="600.00" y1="915.40" x2="606.60" y2="915.40" stroke="#1e1e1e" stroke-width="1.0"/>
<line x1="606.60" y1="897.00" x2="606.60" y2="918.00" stroke="#1e1e1e" stroke-width="1.0"/>
<path d="M572.5,921 L572.5,937 L596,937 L596,921" stroke="#1e1e1e" stroke-width="1.0" fill="none" />
<line x1="575.00" y1="922.00" x2="575.00" y2="931.00" stroke="#1e1e1e" stroke-width="1.0"/>
<line x1="593.00" y1="922.00" x2="593.00" y2="931.00" stroke="#1e1e1e" stroke-width="1.0"/>
<line x1="577.50" y1="922.00" x2="577.50" y2="931.00" stroke="#1e1e1e" stroke-width="1.0"/>
<line x1="590.40" y1="922.00" x2="590.40" y2="931.00" stroke="#1e1e1e" stroke-width="1.0"/>
<line x1="574.50" y1="931.50" x2="593.50" y2="931.50" stroke="#1e1e1e" stroke-width="2.6"/>
<path d="M575,935.5 L577,934 L579,935.5 L581,934 L583,935.5 L585,934 L587,935.5 L589,934 L591,935.5 L593,934" stroke="#1e1e1e" stroke-width="1.0" fill="none" />
<circle cx="583.90" cy="907.60" r="15.30" stroke="#1e1e1e" stroke-width="1.8" fill="#fff"/>
<circle cx="583.90" cy="907.60" r="12.00" stroke="#1e1e1e" stroke-width="2.6" fill="none"/>
<line x1="583.90" y1="882.00" x2="583.90" y2="937.00" stroke="#1e1e1e" stroke-width="1.0"/>
<line x1="558.50" y1="907.60" x2="609.30" y2="907.60" stroke="#1e1e1e" stroke-width="1.0"/>
<text x="572.65" y="878.90" font-size="9.45" textLength="28.02" lengthAdjust="spacingAndGlyphs" style="font-weight:bold;" fill="#1e1e1e">Poz. 1</text>
<text x="611.75" y="910.70" font-size="10.03" textLength="28.04" lengthAdjust="spacingAndGlyphs" style="font-weight:bold;" fill="#1e1e1e">Poz. 2</text>
<text x="528.77" y="910.70" font-size="10.03" textLength="27.38" lengthAdjust="spacingAndGlyphs" style="font-weight:bold;" fill="#1e1e1e">Poz. 4</text>
<text x="570.55" y="946.80" font-size="9.30" textLength="28.00" lengthAdjust="spacingAndGlyphs" style="font-weight:bold;" fill="#1e1e1e">Poz. 3</text>
<text x="571.27" y="969.90" font-size="12.35" textLength="29.95" lengthAdjust="spacingAndGlyphs" style="font-weight:bold;" fill="#1e1e1e">63-71</text>
<text x="542.94" y="983.60" font-size="12.50" textLength="25.39" lengthAdjust="spacingAndGlyphs" style="stroke:#1e1e1e;stroke-width:0.35px;" fill="#1e1e1e" xml:space="preserve">Tip / </text>
<text x="568.33" y="983.60" font-size="12.50" textLength="25.39" lengthAdjust="spacingAndGlyphs" style="font-style:italic;stroke:#1e1e1e;stroke-width:0.35px;" fill="#1e1e1e" xml:space="preserve">Type</text>
<text x="593.72" y="983.60" font-size="12.50" textLength="28.56" lengthAdjust="spacingAndGlyphs" style="stroke:#1e1e1e;stroke-width:0.35px;" fill="#1e1e1e" xml:space="preserve"> / Typ</text>
</svg></body></html>
